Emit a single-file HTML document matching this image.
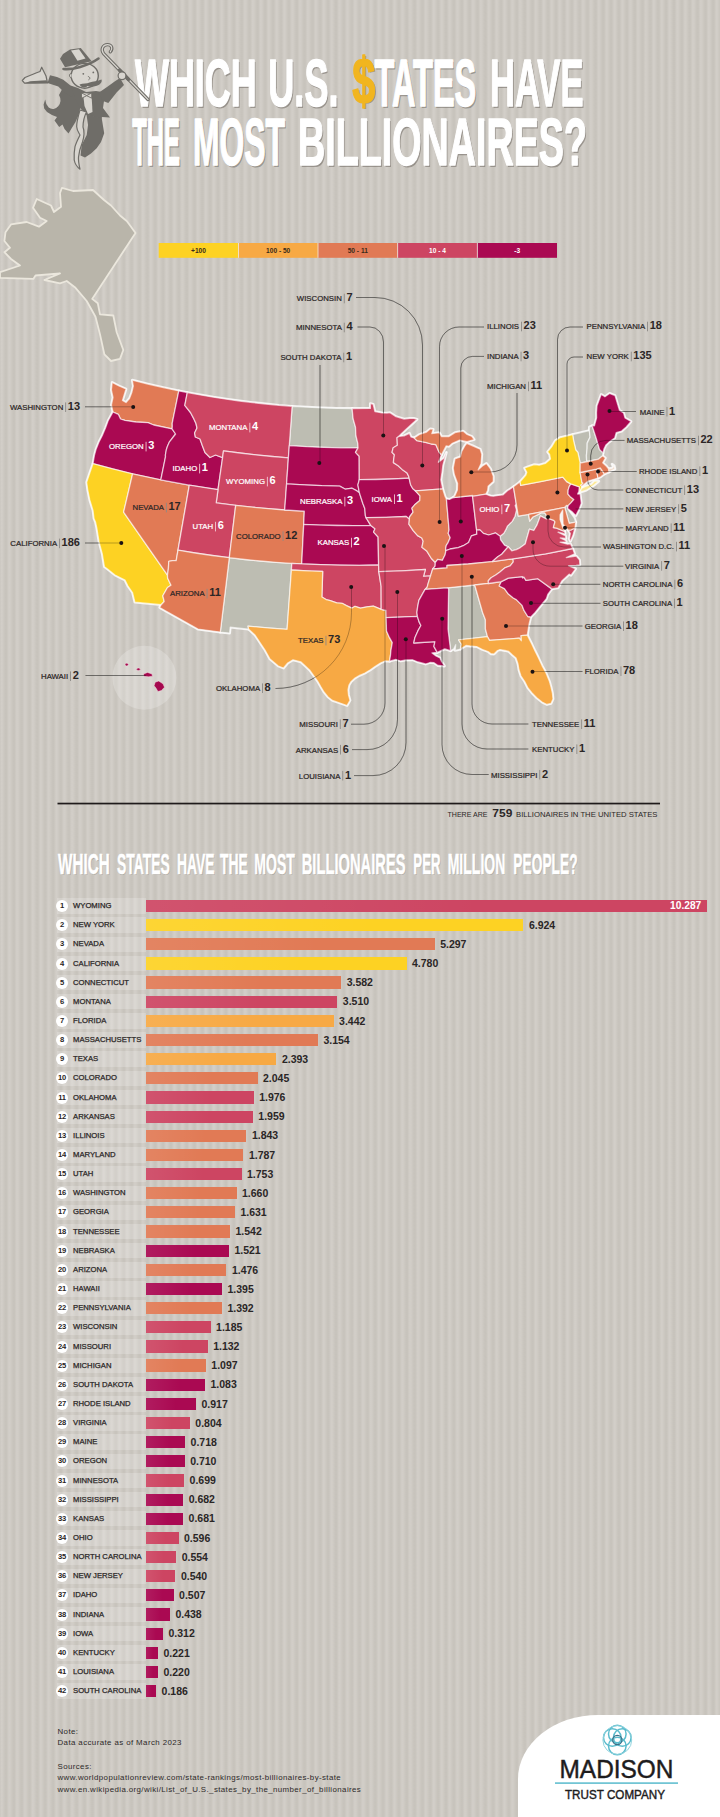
<!DOCTYPE html><html><head><meta charset="utf-8"><title>Which U.S. States Have the Most Billionaires?</title><style>
html,body{margin:0;padding:0}
body{width:720px;height:1817px;position:relative;overflow:hidden;font-family:"Liberation Sans",sans-serif;
background:repeating-linear-gradient(90deg,#d1cdc7 0px,#d2cec8 1.4px,#cac6bf 3.9px,#c6c2bb 5.4px,#cac6bf 6.9px,#d1cdc7 7.86px);background-position:0.5px 0}
.row{position:absolute;left:0;width:720px;height:19px}
.strip{position:absolute;left:56.5px;top:1.8px;width:89.5px;height:15.4px;background:rgba(255,255,255,0.2)}
.num{position:absolute;left:56px;top:3.6px;width:12px;height:12px;border-radius:50%;background:#fff;font-size:7.6px;font-weight:700;line-height:12px;text-align:center;color:#2a2626;letter-spacing:-0.2px}
.nm{position:absolute;left:73px;top:4.6px;font-size:7.7px;line-height:10px;color:#2a2626;white-space:nowrap;-webkit-text-stroke:0.25px #2a2626}
.bar{position:absolute;left:146px;top:3.4px;height:12.2px}
.bar:after{content:'';position:absolute;left:0;top:0;right:0;bottom:0;background:linear-gradient(90deg,rgba(255,255,255,0.08),rgba(255,255,255,0) 60%)}
.val{position:absolute;top:3.2px;font-size:10.5px;font-weight:700;line-height:12.6px;color:#2a2626;white-space:nowrap}
.val.in{color:#fff;font-size:10.2px}
.foot{position:absolute;left:57.5px;font-size:7.9px;letter-spacing:0.4px;line-height:9px;color:#2d2929;white-space:nowrap}
.panel{position:absolute;left:518px;top:1715px;width:220px;height:120px;background:#fff;border-top-left-radius:80px 64px}
</style></head><body><svg width="720" height="890" viewBox="0 0 720 890" style="position:absolute;left:0;top:0"><path d="M62.0,187.8 L73.0,191.0 L93.0,190.0 L104.0,200.0 L111.0,205.5 L120.0,215.5 L126.7,221.0 L131.0,226.7 L135.5,233.0 L92.2,298.9 L97.8,303.3 L100.0,314.4 L113.3,315.5 L116.7,332.2 L123.3,350.0 L120.0,358.9 L111.0,361.0 L104.4,354.4 L100.0,334.4 L95.5,316.7 L86.7,301.0 L75.5,287.8 L66.7,281.0 L60.0,283.3 L44.4,280.0 L60.0,273.3 L35.5,275.5 L33.3,278.9 L0.0,277.8 L0.0,272.2 L20.0,265.5 L11.0,258.9 L4.4,252.2 L10.0,247.8 L4.4,241.0 L5.5,232.2 L11.0,224.4 L26.7,222.0 L39.0,226.7 L46.7,221.0 L40.0,217.8 L33.0,207.8 L36.7,199.0 L51.0,205.5 L54.0,212.0 L61.0,206.7 L60.0,193.0 Z" fill="#b9b5aa" stroke="#ebe7dd" stroke-width="1.8" stroke-linejoin="round"/><g font-family="'Liberation Sans',sans-serif"><text x="136.2" y="107.5" font-size="67" font-weight="700" fill="rgba(90,85,78,0.45)" textLength="121.7" lengthAdjust="spacingAndGlyphs" >WHICH</text><text x="135.0" y="106.0" font-size="67" font-weight="700" fill="#fff" textLength="121.7" lengthAdjust="spacingAndGlyphs" stroke="#fff" stroke-width="1.5" stroke-linejoin="round">WHICH</text><text x="269.5" y="107.5" font-size="67" font-weight="700" fill="rgba(90,85,78,0.45)" textLength="70.2" lengthAdjust="spacingAndGlyphs" >U.S.</text><text x="268.3" y="106.0" font-size="67" font-weight="700" fill="#fff" textLength="70.2" lengthAdjust="spacingAndGlyphs" stroke="#fff" stroke-width="1.5" stroke-linejoin="round">U.S.</text><text x="375.7" y="107.5" font-size="67" font-weight="700" fill="rgba(90,85,78,0.45)" textLength="101.8" lengthAdjust="spacingAndGlyphs" >TATES</text><text x="374.5" y="106.0" font-size="67" font-weight="700" fill="#fff" textLength="101.8" lengthAdjust="spacingAndGlyphs" stroke="#fff" stroke-width="1.5" stroke-linejoin="round">TATES</text><text x="491.2" y="107.5" font-size="67" font-weight="700" fill="rgba(90,85,78,0.45)" textLength="93.5" lengthAdjust="spacingAndGlyphs" >HAVE</text><text x="490.0" y="106.0" font-size="67" font-weight="700" fill="#fff" textLength="93.5" lengthAdjust="spacingAndGlyphs" stroke="#fff" stroke-width="1.5" stroke-linejoin="round">HAVE</text><text x="353.4" y="104.1" font-size="65" font-weight="700" fill="rgba(90,85,78,0.45)" textLength="23.0" lengthAdjust="spacingAndGlyphs" >$</text><text x="352.2" y="102.6" font-size="65" font-weight="700" fill="#f1b51f" textLength="23.0" lengthAdjust="spacingAndGlyphs" stroke="#f1b51f" stroke-width="1.5" stroke-linejoin="round">$</text><text x="133.5" y="166.5" font-size="67" font-weight="700" fill="rgba(90,85,78,0.45)" textLength="47.7" lengthAdjust="spacingAndGlyphs" >THE</text><text x="132.3" y="165.0" font-size="67" font-weight="700" fill="#fff" textLength="47.7" lengthAdjust="spacingAndGlyphs" stroke="#fff" stroke-width="1.5" stroke-linejoin="round">THE</text><text x="194.2" y="166.5" font-size="67" font-weight="700" fill="rgba(90,85,78,0.45)" textLength="92.0" lengthAdjust="spacingAndGlyphs" >MOST</text><text x="193.0" y="165.0" font-size="67" font-weight="700" fill="#fff" textLength="92.0" lengthAdjust="spacingAndGlyphs" stroke="#fff" stroke-width="1.5" stroke-linejoin="round">MOST</text><text x="299.2" y="166.5" font-size="67" font-weight="700" fill="rgba(90,85,78,0.45)" textLength="289.0" lengthAdjust="spacingAndGlyphs" >BILLIONAIRES?</text><text x="298.0" y="165.0" font-size="67" font-weight="700" fill="#fff" textLength="289.0" lengthAdjust="spacingAndGlyphs" stroke="#fff" stroke-width="1.5" stroke-linejoin="round">BILLIONAIRES?</text></g><g stroke-linejoin="round" stroke-linecap="round">
<path d="M148,99.5 L103.5,53.5 C100.5,49.5 103,44.6 107.5,44.6 C111.8,44.6 113.2,48.8 110.3,51.8" fill="none" stroke="#6f6d68" stroke-width="3.3"/>
<path d="M148,99.5 L103.5,53.5 C100.5,49.5 103,44.6 107.5,44.6 C111.8,44.6 113.2,48.8 110.3,51.8" fill="none" stroke="#d8d5cf" stroke-width="1.2"/>
<path d="M119.5,70 L128.5,79.5" stroke="#6f6d68" stroke-width="3.4"/>
<path d="M74,90 L63,87.5 L59,94.9 A7.6,9 0 0 1 48.7,107.6 L46.3,104 L45.2,99.5 L43.6,104.5 L44.2,108.6 L47,112 L52,115 L57,117 L54.5,120.5 L59.2,127 L62.5,124.5 L64.5,129 L68.5,133.5 L71.5,128.5 L75.5,122 L79,114 L81,104 Z" fill="#6f6d68"/>
<path d="M50,75.3 L57,77 L63.3,79.7 L70.5,85.5 L76,89 L72,97 L65,93 L58.3,86.5 L47.5,83 Z" fill="#6f6d68"/>
<path d="M70.5,85.5 L78,88 L86,92 L96,91 L108,93 L104,101 L103,108 L110,117.5 L102,117 L101.5,119 L86.5,115 L80,108 L76,100 Z" fill="#6f6d68"/>
<path d="M98.3,93 L107,87 L115,81.3 L120,78 L124,85 L117,92 L108.3,103 L103,101 Z" fill="#6f6d68"/>
<path d="M83,93 L91.5,94 L92.5,112 L88,114 L84.5,106 Z" fill="#d8d5cf"/>
<path d="M81.7,93 l5,2.5 l5,-2.5 v5.2 l-5,-2.5 l-5,2.5z" fill="#d8d5cf" stroke="#6f6d68" stroke-width="0.9"/>
<path d="M86.5,114.5 L101.7,118.3 L104.2,133.3 L101,142 L96.7,148.3 L91,153.5 L85,157.5 L80.5,155.5 L81.7,145 L86.7,135 L88,125 Z" fill="#6f6d68"/>
<path d="M80,110 C78,117 76.5,122 76.7,126.7 C77,131 79,133 80,135 C78,139 76,143 75,146.7 C74,152 74,156 74.2,160 C75,164 77,167 80,169.2 C79,165 78.2,161 78.5,157 C79,152 80.5,147 82.5,142 C84,137 84.5,131 83,127 C83,121 84.5,116 86.5,112 Z" fill="#d8d5cf" stroke="#6f6d68" stroke-width="1.2"/>
<path d="M47.5,83 L46,76 L41.7,67.2 L40,71.5 L36,73 L25,77.5 L22.3,80.5 L24.5,83.2 L35,83 Z" fill="#d8d5cf" stroke="#6f6d68" stroke-width="1.2"/>
<path d="M24.5,83.2 L35,83.4 L47.5,83 L46.5,80.3 L30,81.3 Z" fill="#6f6d68"/>
<circle cx="122" cy="75.8" r="3.9" fill="#d8d5cf" stroke="#6f6d68" stroke-width="1.2"/>
<ellipse cx="84.7" cy="75.8" rx="13.6" ry="12.4" fill="#d8d5cf" stroke="#6f6d68" stroke-width="1.4"/>
<path d="M71.6,73.5 c-2.6,-0.6 -3.2,3.6 -0.2,4.6" fill="#d8d5cf" stroke="#6f6d68" stroke-width="1"/>
<circle cx="83.3" cy="73.8" r="0.9" fill="#6f6d68"/><circle cx="93.3" cy="72.4" r="0.9" fill="#6f6d68"/>
<path d="M88.3,76.5 c1.8,0.4 2.2,2.3 0.6,3.2" fill="none" stroke="#6f6d68" stroke-width="1"/>
<path d="M79.5,84.5 C83,83 87,84 89.5,82.5 C93,81 97.5,81.5 101.5,79.5 C102.5,82 100,85 96,86 C92,87.5 88.5,86.5 87.5,86 C85,88.5 81,87.5 79.5,84.5Z" fill="#6f6d68"/>
<path d="M60,58.8 L63,54 L70,49.5 L80.8,48 L91.7,61.3 L65,67.2 Z" fill="#6f6d68"/>
<path d="M71,50.5 L79,49.3 L85.5,58.5 L77.5,60.8 Z" fill="#d8d5cf"/>
<path d="M63.5,69 C72,70 88,66 98.5,58.5" fill="none" stroke="#6f6d68" stroke-width="2.6"/>
</g><g><rect x="158.7" y="243" width="79.7" height="14.8" fill="#fdd223"/><text x="198.5" y="253.2" font-size="6.6" font-weight="700" text-anchor="middle" fill="#3a2a1a" font-family="'Liberation Sans',sans-serif">+100</text><rect x="238.4" y="243" width="79.7" height="14.8" fill="#f7a944"/><rect x="238.0" y="243" width="0.8" height="14.8" fill="#f3e9df"/><text x="278.2" y="253.2" font-size="6.6" font-weight="700" text-anchor="middle" fill="#3a2a1a" font-family="'Liberation Sans',sans-serif">100 - 50</text><rect x="318.0" y="243" width="79.7" height="14.8" fill="#e17a55"/><rect x="317.6" y="243" width="0.8" height="14.8" fill="#f3e9df"/><text x="357.8" y="253.2" font-size="6.6" font-weight="700" text-anchor="middle" fill="#3a2a1a" font-family="'Liberation Sans',sans-serif">50 - 11</text><rect x="397.7" y="243" width="79.7" height="14.8" fill="#cd4562"/><rect x="397.3" y="243" width="0.8" height="14.8" fill="#f3e9df"/><text x="437.5" y="253.2" font-size="6.6" font-weight="700" text-anchor="middle" fill="#fff" font-family="'Liberation Sans',sans-serif">10 - 4</text><rect x="477.3" y="243" width="79.7" height="14.8" fill="#aa0952"/><rect x="476.9" y="243" width="0.8" height="14.8" fill="#f3e9df"/><text x="517.2" y="253.2" font-size="6.6" font-weight="700" text-anchor="middle" fill="#fff" font-family="'Liberation Sans',sans-serif">-3</text></g><circle cx="144.4" cy="677.8" r="32" fill="rgba(255,255,255,0.22)"/><g fill="#a5094f" stroke="#f3dfe3" stroke-width="0.5"><ellipse cx="126.7" cy="664.6" rx="1.6" ry="1.4"/><ellipse cx="138.4" cy="669.3" rx="1.7" ry="1.3"/><path d="M143.5,674 l4,-1.6 l4.5,1.6 l0.5,2.2 l-4,0.6 l-4.5,-0.5z"/><path d="M155.2,682.2 l3.5,-1.2 l4.3,2.8 l1.5,3.4 l-3,3.3 l-3.6,1 l-1.8,-3.2 l-2,-2.6z"/></g><g fill="none" stroke="#fff" stroke-opacity="0.8" stroke-width="2.8" stroke-linejoin="round"><path d="M113.0,412.0 L111.4,405.0 L113.0,397.5 L111.4,390.0 L112.2,382.4 L119.0,386.0 L126.0,389.0 L124.3,394.5 L122.5,400.5 L126.0,402.5 L129.5,398.5 L131.8,392.5 L133.3,386.0 L132.3,380.2 L147.8,384.0 L163.3,387.6 L178.8,390.9 L172.2,423.3 L172.3,426.3 L172.1,428.9 L153.6,425.0 L148.0,422.7 L135.8,422.0 L125.0,420.4 L120.5,419.0 L118.3,414.3 L113.0,412.0Z"/><path d="M93.0,463.7 L94.5,455.0 L96.0,449.5 L99.0,442.0 L102.2,435.7 L105.5,428.0 L108.3,420.4 L113.0,412.0 L118.3,414.3 L120.5,419.0 L125.0,420.4 L135.8,422.0 L148.0,422.7 L153.6,425.0 L172.1,428.9 L175.6,434.0 L172.5,438.0 L169.5,441.8 L167.6,446.0 L166.4,449.5 L165.4,455.0 L165.5,456.8 L160.8,479.9 L132.6,473.8 L112.7,468.9 L93.0,463.7Z"/><path d="M134.9,602.2 L132.5,592.5 L128.0,586.0 L125.0,580.0 L119.0,577.0 L115.0,575.0 L107.5,569.0 L104.4,566.7 L102.3,554.0 L99.0,541.7 L97.0,529.0 L95.5,522.0 L94.0,518.5 L93.0,510.4 L89.8,500.0 L87.7,489.6 L86.7,482.3 L89.8,473.0 L93.0,463.7 L112.7,468.9 L132.6,473.8 L123.6,512.2 L167.5,575.2 L167.6,577.9 L171.0,585.2 L167.5,587.5 L162.8,595.8 L164.2,601.5 L161.2,604.7 L134.9,602.2Z"/><path d="M132.6,473.8 L160.8,479.9 L189.3,485.2 L178.0,550.2 L176.2,560.6 L172.5,560.6 L168.8,561.3 L168.4,568.6 L167.5,575.2 L123.6,512.2 L132.6,473.8Z"/><path d="M178.8,390.9 L187.3,392.6 L184.8,405.4 L190.5,412.5 L193.9,418.9 L196.0,423.5 L197.0,428.0 L194.6,433.0 L195.4,437.0 L200.0,439.0 L202.5,446.0 L205.0,452.5 L210.0,457.5 L215.5,455.0 L222.6,457.6 L218.0,489.7 L189.3,485.2 L160.8,479.9 L165.5,456.8 L165.4,455.0 L166.4,449.5 L167.6,446.0 L169.5,441.8 L172.5,438.0 L175.6,434.0 L172.1,428.9 L172.3,426.3 L172.2,423.3 L178.8,390.9Z"/><path d="M187.3,392.6 L200.3,394.9 L213.3,397.2 L226.4,399.2 L239.5,401.0 L252.6,402.6 L265.7,404.0 L278.9,405.3 L292.1,406.3 L289.3,445.6 L288.4,457.8 L272.1,456.5 L255.9,454.9 L239.7,453.0 L223.5,450.9 L222.6,457.6 L215.5,455.0 L210.0,457.5 L205.0,452.5 L202.5,446.0 L200.0,439.0 L195.4,437.0 L194.6,433.0 L197.0,428.0 L196.0,423.5 L193.9,418.9 L190.5,412.5 L184.8,405.4 L187.3,392.6Z"/><path d="M223.5,450.9 L239.7,453.0 L255.9,454.9 L272.1,456.5 L288.4,457.8 L286.6,483.8 L284.7,510.0 L268.3,508.7 L252.0,507.1 L235.7,505.3 L216.2,502.8 L218.0,489.7 L222.6,457.6Z"/><path d="M189.3,485.2 L218.0,489.7 L216.2,502.8 L235.7,505.3 L229.3,557.7 L212.2,555.5 L195.1,553.0 L178.0,550.2 L189.3,485.2Z"/><path d="M235.7,505.3 L252.0,507.1 L268.3,508.7 L284.7,510.0 L304.3,511.2 L303.7,524.4 L301.7,563.9 L291.8,563.4 L276.1,562.3 L260.5,561.0 L244.9,559.5 L229.3,557.7 L235.7,505.3Z"/><path d="M178.0,550.2 L195.1,553.0 L212.2,555.5 L229.3,557.7 L220.3,632.1 L198.0,629.1 L159.7,607.5 L161.2,604.7 L164.2,601.5 L162.8,595.8 L167.5,587.5 L171.0,585.2 L167.6,577.9 L167.5,575.2 L168.4,568.6 L168.8,561.3 L172.5,560.6 L176.2,560.6 L178.0,550.2Z"/><path d="M229.3,557.7 L244.9,559.5 L260.5,561.0 L276.1,562.3 L291.8,563.4 L291.4,570.0 L287.1,629.3 L267.6,627.9 L248.0,626.2 L248.7,629.2 L230.2,627.2 L229.6,633.1 L220.3,632.1 L229.3,557.7Z"/><path d="M292.1,406.3 L307.1,407.2 L322.1,407.9 L337.1,408.4 L352.1,408.5 L353.1,418.8 L355.5,427.1 L355.9,435.5 L357.8,443.3 L358.1,447.9 L340.9,447.8 L323.7,447.4 L306.5,446.7 L289.3,445.6 L292.1,406.3Z"/><path d="M289.3,445.6 L306.5,446.7 L323.7,447.4 L340.9,447.8 L358.1,447.9 L355.5,452.4 L359.2,456.2 L359.3,479.7 L357.9,484.9 L359.4,492.8 L356.9,490.9 L352.1,488.2 L345.4,489.2 L339.7,486.1 L322.0,485.7 L304.2,484.9 L286.6,483.8 L288.4,457.8 L289.3,445.6Z"/><path d="M286.6,483.8 L304.2,484.9 L322.0,485.7 L339.7,486.1 L345.4,489.2 L352.1,488.2 L356.9,490.9 L359.4,492.8 L362.8,503.3 L364.8,508.5 L365.4,515.8 L366.2,518.0 L368.9,522.3 L370.9,525.6 L354.1,525.7 L337.3,525.5 L320.4,525.1 L303.7,524.4 L304.3,511.2 L284.7,510.0 L286.6,483.8Z"/><path d="M303.7,524.4 L320.4,525.1 L337.3,525.5 L354.1,525.7 L370.9,525.6 L375.0,528.8 L373.6,532.1 L378.1,537.0 L378.6,565.0 L359.4,565.3 L340.2,565.2 L320.9,564.7 L301.7,563.9 L303.7,524.4Z"/><path d="M291.8,563.4 L301.7,563.9 L320.9,564.7 L340.2,565.2 L359.4,565.3 L378.6,565.0 L378.8,571.6 L381.1,586.1 L381.2,609.4 L373.3,606.1 L366.9,606.9 L360.4,608.2 L355.0,606.3 L351.8,608.2 L346.4,605.6 L342.1,603.3 L336.7,602.8 L330.3,600.7 L326.1,599.5 L321.9,597.0 L322.7,571.4 L307.0,570.8 L291.4,570.0 L291.8,563.4Z"/><path d="M291.4,570.0 L307.0,570.8 L322.7,571.4 L321.9,597.0 L326.1,599.5 L330.3,600.7 L336.7,602.8 L342.1,603.3 L346.4,605.6 L351.8,608.2 L355.0,606.3 L360.4,608.2 L366.9,606.9 L373.3,606.1 L381.2,609.4 L385.9,610.5 L386.1,617.5 L386.5,631.0 L389.4,637.4 L392.3,642.6 L390.9,650.6 L390.5,655.2 L389.5,661.2 L385.0,661.0 L380.4,663.0 L375.0,666.5 L370.0,670.0 L365.0,673.0 L359.6,675.4 L355.0,678.0 L351.0,681.7 L349.0,685.0 L348.0,690.0 L348.5,695.0 L350.0,700.4 L347.0,705.5 L340.0,703.0 L332.5,700.4 L328.0,697.0 L324.0,692.0 L321.0,687.0 L318.0,681.7 L314.0,676.0 L309.6,670.0 L301.0,661.9 L293.0,659.8 L287.7,663.0 L283.5,668.0 L278.3,666.0 L270.0,659.0 L265.0,650.0 L260.0,642.5 L255.0,635.0 L248.7,629.2 L248.0,626.2 L267.6,627.9 L287.1,629.3 L291.4,570.0Z"/><path d="M352.1,408.5 L370.4,408.4 L370.4,403.6 L373.2,404.3 L374.9,411.5 L382.0,412.9 L386.9,413.1 L390.0,412.7 L395.9,416.6 L404.1,419.1 L409.9,418.4 L413.9,418.4 L417.1,419.3 L412.4,423.6 L406.4,428.9 L401.3,433.7 L398.7,436.4 L397.0,437.7 L397.4,445.2 L393.2,447.7 L392.0,452.3 L394.4,454.8 L393.7,459.4 L393.4,462.6 L398.2,465.7 L402.1,469.4 L407.1,473.1 L408.7,476.3 L409.1,478.2 L392.5,479.0 L375.9,479.5 L359.3,479.7 L359.2,456.2 L355.5,452.4 L358.1,447.9 L357.8,443.3 L355.9,435.5 L355.5,427.1 L353.1,418.8 L352.1,408.5Z"/><path d="M359.3,479.7 L375.9,479.5 L392.5,479.0 L409.1,478.2 L410.6,484.7 L412.7,488.5 L415.4,490.8 L420.0,495.9 L419.8,500.5 L414.7,504.8 L411.9,508.2 L413.1,512.1 L409.5,517.0 L409.4,519.2 L406.2,516.5 L386.2,517.3 L366.2,517.7 L366.2,518.0 L365.4,515.8 L364.8,508.5 L362.8,503.3 L359.4,492.8 L357.9,484.9 L359.3,479.7Z"/><path d="M366.2,518.0 L366.2,517.7 L386.2,517.3 L406.2,516.5 L409.4,519.2 L408.9,524.2 L413.2,530.6 L417.6,535.6 L421.8,538.0 L423.2,541.2 L421.9,547.3 L426.7,550.9 L431.4,558.5 L435.3,562.5 L435.1,566.2 L432.7,569.0 L431.4,573.1 L430.6,575.8 L423.5,576.3 L425.4,569.5 L402.1,570.8 L378.8,571.6 L378.6,565.0 L378.1,537.0 L373.6,532.1 L375.0,528.8 L370.9,525.6 L368.9,522.3 L366.2,518.0Z"/><path d="M378.8,571.6 L402.1,570.8 L425.4,569.5 L423.5,576.3 L430.6,575.8 L428.4,582.6 L427.1,587.3 L425.1,589.4 L422.7,593.6 L418.9,600.4 L417.6,607.1 L416.9,612.5 L417.4,616.4 L386.2,617.7 L386.1,617.5 L385.9,610.5 L381.2,609.4 L381.1,586.1 L378.8,571.6Z"/><path d="M386.2,617.7 L417.4,616.4 L419.0,621.6 L420.9,625.5 L417.9,630.9 L414.9,637.7 L413.8,643.0 L434.9,641.7 L433.9,646.4 L437.2,652.4 L432.0,653.0 L436.0,656.0 L440.0,658.0 L441.5,661.5 L444.5,666.0 L438.0,665.5 L434.0,662.7 L430.0,662.5 L425.6,664.0 L418.0,662.0 L412.5,659.8 L406.0,660.0 L400.8,661.0 L396.0,659.5 L389.5,661.2 L390.5,655.2 L390.9,650.6 L392.3,642.6 L389.4,637.4 L386.5,631.0 L386.1,617.5Z"/><path d="M398.7,436.4 L404.1,435.8 L409.4,433.3 L411.0,437.0 L414.1,437.9 L417.0,440.7 L426.5,442.6 L431.2,444.0 L435.9,444.7 L438.9,451.8 L441.5,454.9 L438.4,462.3 L444.1,457.9 L446.4,452.4 L444.0,461.2 L442.9,465.2 L442.1,471.8 L440.9,479.8 L442.7,489.0 L442.7,488.9 L415.4,490.9 L415.4,490.8 L412.7,488.5 L410.6,484.7 L409.1,478.2 L408.7,476.3 L407.1,473.1 L402.1,469.4 L398.2,465.7 L393.4,462.6 L393.7,459.4 L394.4,454.8 L392.0,452.3 L393.2,447.7 L397.4,445.2 L397.0,437.7 L398.7,436.4Z"/><path d="M415.4,490.9 L442.7,488.9 L442.7,489.0 L445.1,496.6 L446.4,498.9 L449.1,529.9 L448.2,533.3 L450.2,537.7 L448.1,542.6 L446.3,545.4 L445.6,548.8 L445.9,550.7 L445.1,554.8 L442.4,560.3 L437.7,559.4 L435.3,562.5 L431.4,558.5 L426.7,550.9 L421.9,547.3 L423.2,541.2 L421.8,538.0 L417.6,535.6 L413.2,530.6 L408.9,524.2 L409.4,519.2 L409.5,517.0 L413.1,512.1 L411.9,508.2 L414.7,504.8 L419.8,500.5 L420.0,495.9 L415.4,490.8Z"/><path d="M446.4,498.9 L449.5,499.4 L453.1,497.6 L472.6,495.5 L472.6,496.3 L476.6,530.1 L476.8,534.2 L471.4,535.9 L468.6,542.5 L463.3,545.7 L458.3,547.6 L450.2,549.0 L445.9,550.7 L445.6,548.8 L446.3,545.4 L448.1,542.6 L450.2,537.7 L448.2,533.3 L449.1,529.9 L446.4,498.9Z"/><path d="M414.1,437.9 L419.5,434.5 L426.6,432.1 L430.4,428.8 L433.2,429.3 L431.8,433.6 L439.4,432.7 L441.6,436.6 L449.0,436.5 L455.0,432.6 L463.0,431.1 L467.1,434.5 L472.0,436.5 L474.2,439.5 L467.1,441.7 L459.5,440.2 L452.4,443.3 L449.0,446.3 L446.2,445.9 L441.5,454.9 L438.9,451.8 L435.9,444.7 L431.2,444.0 L426.5,442.6 L417.0,440.7 L414.1,437.9Z"/><path d="M453.1,497.6 L455.0,495.6 L457.4,490.1 L457.6,483.4 L454.3,474.6 L453.2,468.1 L455.0,458.8 L460.4,456.9 L461.7,451.5 L464.8,445.9 L466.8,443.3 L473.2,446.1 L480.2,449.2 L481.8,454.2 L481.1,463.5 L478.2,469.8 L482.4,466.0 L486.4,463.4 L490.5,468.8 L493.3,476.3 L493.3,481.6 L488.1,486.3 L487.7,490.4 L485.8,494.2 L485.8,494.2 L472.6,496.3 L472.6,495.5 L453.1,497.6Z"/><path d="M472.6,496.3 L485.8,494.2 L490.4,495.9 L493.4,496.2 L500.2,495.2 L503.1,494.8 L507.4,490.8 L513.5,486.8 L516.3,504.1 L515.2,505.5 L516.5,510.0 L515.0,516.2 L512.2,521.4 L507.4,526.1 L506.2,528.9 L503.8,533.3 L500.1,536.2 L495.6,532.9 L488.7,535.0 L483.4,533.4 L479.9,529.9 L476.6,530.1 L472.6,496.3Z"/><path d="M445.9,550.7 L450.2,549.0 L458.3,547.6 L463.3,545.7 L468.6,542.5 L471.4,535.9 L476.8,534.2 L476.6,530.1 L479.9,529.9 L483.4,533.4 L488.7,535.0 L495.6,532.9 L500.1,536.2 L500.6,539.8 L504.5,545.2 L508.2,546.8 L501.7,554.3 L497.8,556.8 L492.4,561.6 L468.3,564.0 L447.0,565.5 L447.0,567.9 L432.7,569.0 L435.1,566.2 L435.3,562.5 L437.7,559.4 L442.4,560.3 L445.1,554.8 L445.9,550.7Z"/><path d="M432.7,569.0 L447.0,567.9 L447.0,565.5 L468.3,564.0 L492.4,561.6 L513.0,558.8 L513.3,561.9 L510.2,565.8 L504.7,567.9 L499.9,571.9 L496.1,574.8 L491.1,577.7 L488.3,580.8 L488.4,583.5 L488.4,583.4 L474.8,585.0 L447.4,587.8 L425.1,589.4 L427.1,587.3 L428.4,582.6 L430.6,575.8 L431.4,573.1 L432.7,569.0Z"/><path d="M425.1,589.4 L447.4,587.8 L448.6,589.0 L448.0,628.8 L450.6,650.7 L444.8,648.9 L437.2,652.4 L433.9,646.4 L434.9,641.7 L413.8,643.0 L414.9,637.7 L417.9,630.9 L420.9,625.5 L419.0,621.6 L417.4,616.4 L416.9,612.5 L417.6,607.1 L418.9,600.4 L422.7,593.6 L425.1,589.4Z"/><path d="M447.4,587.8 L474.8,585.0 L474.8,585.3 L482.6,612.5 L485.4,619.7 L485.4,629.0 L487.5,636.7 L458.6,639.8 L461.3,644.2 L460.4,649.1 L455.1,650.4 L455.7,644.7 L453.8,648.8 L450.6,650.7 L448.0,628.8 L448.6,589.0 L447.4,587.8Z"/><path d="M474.8,585.0 L488.4,583.4 L488.4,583.5 L501.2,581.7 L499.2,586.0 L504.4,588.6 L508.4,594.1 L513.3,598.0 L516.3,599.6 L522.1,605.4 L524.0,610.4 L527.8,616.5 L530.8,617.0 L529.0,624.4 L527.3,635.2 L521.1,635.6 L521.3,640.7 L519.3,638.2 L489.5,640.4 L487.5,636.7 L485.4,629.0 L485.4,619.7 L482.6,612.5 L474.8,585.3Z"/><path d="M460.4,649.1 L461.3,644.2 L458.6,639.8 L487.5,636.7 L489.5,640.4 L519.3,638.2 L521.3,640.7 L521.1,635.6 L527.3,635.2 L532.0,644.5 L535.0,651.0 L538.5,658.0 L542.0,665.6 L546.0,673.0 L549.5,681.6 L551.0,687.0 L552.4,693.0 L553.0,699.0 L551.0,703.5 L547.0,704.5 L542.0,702.0 L537.0,698.0 L532.0,693.0 L528.0,688.0 L524.7,681.6 L521.0,676.0 L519.0,670.0 L518.0,664.0 L516.0,658.0 L512.5,655.0 L508.7,651.5 L505.0,650.5 L500.0,649.6 L497.5,650.5 L494.0,654.0 L491.0,653.8 L488.0,651.5 L482.5,649.5 L476.6,646.6 L470.0,646.0 L466.0,645.5 L460.4,649.1Z"/><path d="M501.2,581.7 L508.3,578.1 L522.5,576.6 L522.7,577.9 L523.9,577.0 L526.0,580.4 L537.8,578.7 L551.8,588.9 L547.8,594.4 L546.4,598.7 L540.0,606.5 L534.9,612.7 L530.8,617.0 L527.8,616.5 L524.0,610.4 L522.1,605.4 L516.3,599.6 L513.3,598.0 L508.4,594.1 L504.4,588.6 L499.2,586.0 L501.2,581.7Z"/><path d="M488.4,583.5 L488.3,580.8 L491.1,577.7 L496.1,574.8 L499.9,571.9 L504.7,567.9 L510.2,565.8 L513.3,561.9 L513.0,558.8 L545.8,553.8 L572.7,548.5 L574.6,553.9 L566.3,557.6 L576.2,556.1 L579.5,559.9 L579.9,564.8 L576.0,565.4 L568.5,565.6 L575.6,568.8 L571.0,575.2 L569.1,574.2 L561.8,581.0 L558.1,587.8 L551.8,588.9 L537.8,578.7 L526.0,580.4 L523.9,577.0 L522.7,577.9 L522.5,576.6 L508.3,578.1 L501.2,581.7 L488.4,583.5Z"/><path d="M492.4,561.6 L513.0,558.8 L545.8,553.8 L572.7,548.5 L570.4,543.8 L567.3,544.2 L560.0,542.1 L566.3,542.0 L565.5,540.5 L560.2,538.0 L565.9,538.4 L565.5,535.8 L558.0,532.2 L565.1,533.9 L564.6,531.3 L556.6,528.2 L553.4,527.5 L555.0,521.8 L553.8,520.3 L549.6,518.8 L546.9,516.4 L546.3,519.0 L540.4,515.9 L536.9,525.2 L533.8,530.5 L529.4,529.2 L525.2,544.0 L520.0,547.8 L516.4,549.6 L511.8,550.8 L508.2,546.8 L501.7,554.3 L497.8,556.8 L492.4,561.6Z"/><path d="M568.6,530.4 L571.1,529.9 L575.0,528.0 L572.9,535.6 L570.4,541.3 L569.4,539.0 L570.3,533.5Z"/><path d="M500.1,536.2 L503.8,533.3 L506.2,528.9 L507.4,526.1 L512.2,521.4 L515.0,516.2 L516.5,510.0 L515.2,505.5 L516.3,504.1 L518.3,516.1 L528.6,514.4 L529.7,521.1 L532.9,517.0 L539.0,514.1 L541.3,512.6 L544.9,513.0 L546.9,516.4 L546.3,519.0 L540.4,515.9 L536.9,525.2 L533.8,530.5 L529.4,529.2 L525.2,544.0 L520.0,547.8 L516.4,549.6 L511.8,550.8 L508.2,546.8 L504.5,545.2 L500.6,539.8 L500.1,536.2Z"/><path d="M520.1,481.8 L513.5,486.8 L516.3,504.1 L518.3,516.1 L528.6,514.4 L546.7,511.0 L564.8,507.4 L566.4,505.5 L568.2,505.6 L570.9,502.9 L573.8,499.6 L570.0,496.4 L568.0,494.1 L568.1,490.1 L569.3,486.4 L570.9,483.9 L566.7,481.6 L562.8,477.1 L541.8,481.4 L520.7,485.3 L520.1,481.8Z"/><path d="M546.9,516.4 L544.9,513.0 L541.3,512.6 L539.0,514.1 L532.9,517.0 L529.7,521.1 L528.6,514.4 L546.7,511.0 L564.8,507.4 L569.2,523.4 L575.7,522.1 L575.0,528.0 L571.1,529.9 L568.6,530.4 L563.1,524.2 L562.8,517.5 L562.7,510.1 L560.1,514.7 L560.0,519.4 L562.6,527.0 L564.6,531.3 L556.6,528.2 L553.4,527.5 L555.0,521.8 L553.8,520.3 L549.6,518.8 L546.9,516.4Z"/><path d="M564.8,507.4 L566.4,505.5 L568.2,505.6 L567.5,508.4 L569.8,511.9 L574.2,517.8 L575.7,522.1 L569.2,523.4 L564.8,507.4Z"/><path d="M570.9,483.9 L579.5,486.8 L579.2,490.9 L577.6,494.0 L580.2,494.1 L581.3,503.3 L579.4,508.5 L575.8,515.6 L571.8,511.5 L567.5,508.4 L568.2,505.6 L570.9,502.9 L573.8,499.6 L570.0,496.4 L568.0,494.1 L568.1,490.1 L569.3,486.4 L570.9,483.9Z"/><path d="M520.1,481.8 L525.9,475.1 L526.8,472.2 L524.6,468.0 L534.2,464.6 L539.2,465.2 L545.6,463.3 L550.5,458.9 L549.6,454.5 L547.6,451.8 L551.8,446.7 L555.3,440.6 L560.3,437.5 L572.6,434.6 L573.7,441.1 L575.8,450.0 L577.8,452.2 L580.2,463.1 L580.1,472.5 L581.9,482.2 L582.9,483.3 L580.8,485.2 L581.8,486.3 L581.0,489.2 L579.2,490.9 L579.5,486.8 L570.9,483.9 L566.7,481.6 L562.8,477.1 L541.8,481.4 L520.7,485.3 L520.1,481.8Z"/><path d="M580.2,492.1 L586.4,490.2 L594.2,485.1 L598.8,481.2 L594.3,481.2 L591.5,484.2 L585.5,486.4 L581.4,488.4Z"/><path d="M608.3,468.8 L612.1,468.2 L613.5,466.5 L612.0,464.1 L614.2,465.9 L614.9,469.1 L608.9,472.0Z"/><path d="M580.1,472.5 L596.3,469.1 L598.0,478.0 L588.2,481.1 L581.8,486.3 L580.8,485.2 L582.9,483.3 L581.9,482.2 L580.1,472.5Z"/><path d="M596.3,469.1 L600.2,467.9 L603.0,471.8 L604.4,473.9 L601.2,476.5 L598.0,478.0 L596.3,469.1Z"/><path d="M580.1,472.5 L580.2,463.1 L587.8,461.5 L598.7,459.1 L602.6,455.8 L605.4,458.0 L602.7,462.8 L606.7,466.5 L608.5,468.8 L608.9,472.0 L604.4,473.9 L603.0,471.8 L600.2,467.9 L596.3,469.1 L580.1,472.5Z"/><path d="M572.6,434.6 L589.4,430.5 L589.3,430.4 L590.1,437.1 L587.2,443.1 L587.1,448.6 L586.4,455.5 L586.6,460.2 L587.8,461.5 L580.2,463.1 L577.8,452.2 L575.8,450.0 L573.7,441.1 L572.6,434.6Z"/><path d="M589.3,430.4 L589.4,427.1 L592.1,425.8 L596.2,438.2 L599.5,449.5 L603.0,452.9 L602.6,455.8 L598.7,459.1 L587.8,461.5 L586.6,460.2 L586.4,455.5 L587.1,448.6 L587.2,443.1 L590.1,437.1 L589.3,430.4Z"/><path d="M592.1,425.8 L594.4,425.8 L596.6,417.9 L596.5,412.5 L597.0,405.7 L601.2,394.5 L604.9,396.8 L609.6,393.4 L615.0,395.6 L619.4,410.1 L623.5,412.9 L625.0,417.9 L631.0,421.5 L626.2,427.0 L621.6,431.1 L616.2,432.7 L614.7,437.9 L609.0,442.1 L605.9,445.0 L604.0,448.9 L603.0,452.9 L599.5,449.5 L596.2,438.2 L592.1,425.8Z"/></g><g stroke="#fff" stroke-opacity="0.62" stroke-width="1.3" stroke-linejoin="round"><path d="M229.3,557.7 L244.9,559.5 L260.5,561.0 L276.1,562.3 L291.8,563.4 L291.4,570.0 L287.1,629.3 L267.6,627.9 L248.0,626.2 L248.7,629.2 L230.2,627.2 L229.6,633.1 L220.3,632.1 L229.3,557.7Z" fill="#bdbdb2"/>
<path d="M292.1,406.3 L307.1,407.2 L322.1,407.9 L337.1,408.4 L352.1,408.5 L353.1,418.8 L355.5,427.1 L355.9,435.5 L357.8,443.3 L358.1,447.9 L340.9,447.8 L323.7,447.4 L306.5,446.7 L289.3,445.6 L292.1,406.3Z" fill="#bdbdb2"/>
<path d="M447.4,587.8 L474.8,585.0 L474.8,585.3 L482.6,612.5 L485.4,619.7 L485.4,629.0 L487.5,636.7 L458.6,639.8 L461.3,644.2 L460.4,649.1 L455.1,650.4 L455.7,644.7 L453.8,648.8 L450.6,650.7 L448.0,628.8 L448.6,589.0 L447.4,587.8Z" fill="#bdbdb2"/>
<path d="M500.1,536.2 L503.8,533.3 L506.2,528.9 L507.4,526.1 L512.2,521.4 L515.0,516.2 L516.5,510.0 L515.2,505.5 L516.3,504.1 L518.3,516.1 L528.6,514.4 L529.7,521.1 L532.9,517.0 L539.0,514.1 L541.3,512.6 L544.9,513.0 L546.9,516.4 L546.3,519.0 L540.4,515.9 L536.9,525.2 L533.8,530.5 L529.4,529.2 L525.2,544.0 L520.0,547.8 L516.4,549.6 L511.8,550.8 L508.2,546.8 L504.5,545.2 L500.6,539.8 L500.1,536.2Z" fill="#bdbdb2"/>
<path d="M564.8,507.4 L566.4,505.5 L568.2,505.6 L567.5,508.4 L569.8,511.9 L574.2,517.8 L575.7,522.1 L569.2,523.4 L564.8,507.4Z" fill="#bdbdb2"/>
<path d="M572.6,434.6 L589.4,430.5 L589.3,430.4 L590.1,437.1 L587.2,443.1 L587.1,448.6 L586.4,455.5 L586.6,460.2 L587.8,461.5 L580.2,463.1 L577.8,452.2 L575.8,450.0 L573.7,441.1 L572.6,434.6Z" fill="#bdbdb2"/>
<path d="M589.3,430.4 L589.4,427.1 L592.1,425.8 L596.2,438.2 L599.5,449.5 L603.0,452.9 L602.6,455.8 L598.7,459.1 L587.8,461.5 L586.6,460.2 L586.4,455.5 L587.1,448.6 L587.2,443.1 L590.1,437.1 L589.3,430.4Z" fill="#bdbdb2"/></g><g fill="none" stroke="#000" stroke-opacity="0.32" stroke-width="0.9"><path d="M356,297.5 H375 A47.5,47.5 0 0 1 422.5,345 V465.4"/><path d="M357.5,327 H370 A13.5,15 0 0 1 383.5,342 V435.5"/><path d="M320,365 V463"/><path d="M484,327 H459 A19.5,19.5 0 0 0 439.5,346.5 V522"/><path d="M484,356.4 H472.5 A11.7,11.7 0 0 0 460.8,368 V521.5"/><path d="M517,393 V445 A27,27 0 0 1 490,472 H471.5"/><path d="M583,327 H570 A12.5,12.5 0 0 0 557.5,339.5 V492.5"/><path d="M583,357 H574 A7,7 0 0 0 567,364 V450"/><path d="M636,411.5 H609.5"/><path d="M624.5,440.4 H606 A15.3,15.3 0 0 0 590.7,455.7 V463.5"/><path d="M636.7,471.5 H598"/><path d="M623.3,490 H598 A10.5,10.5 0 0 1 587.5,479.5 V474.5"/><path d="M623.3,508.9 H575.5"/><path d="M623.3,527.8 H565"/><path d="M601,547 H564 A16,16 0 0 1 548,531 V517"/><path d="M623.3,566.2 H550 A17,17 0 0 1 533,549 V542.3"/><path d="M600.4,584.3 H553.3"/><path d="M600.5,603.3 H531"/><path d="M582.5,626 H506"/><path d="M582.5,671.5 H532.5"/><path d="M528.4,724 H492 A20,20 0 0 1 472,704 V576.75"/><path d="M528.4,749 H487 A25,25 0 0 1 462,724 V556"/><path d="M488.7,774.5 H472 A30,30 0 0 1 442,744.5 V618.75"/><path d="M351,724.2 H364 A21,21 0 0 0 385,703 V546"/><path d="M352,749.6 H367 A30,30 0 0 0 397.5,719.5 V592"/><path d="M354,775.6 H373 A33,33 0 0 0 406,742.5 V639"/><path d="M275.5,688.5 A76,76 0 0 0 351.5,612.5 V587"/><path d="M85.5,675.5 H145.5"/><path d="M85,406.8 H133"/><path d="M85,543 H121.5"/></g><g stroke="#fff" stroke-opacity="0.62" stroke-width="1.3" stroke-linejoin="round"><path d="M113.0,412.0 L111.4,405.0 L113.0,397.5 L111.4,390.0 L112.2,382.4 L119.0,386.0 L126.0,389.0 L124.3,394.5 L122.5,400.5 L126.0,402.5 L129.5,398.5 L131.8,392.5 L133.3,386.0 L132.3,380.2 L147.8,384.0 L163.3,387.6 L178.8,390.9 L172.2,423.3 L172.3,426.3 L172.1,428.9 L153.6,425.0 L148.0,422.7 L135.8,422.0 L125.0,420.4 L120.5,419.0 L118.3,414.3 L113.0,412.0Z" fill="#e17a55"/>
<path d="M93.0,463.7 L94.5,455.0 L96.0,449.5 L99.0,442.0 L102.2,435.7 L105.5,428.0 L108.3,420.4 L113.0,412.0 L118.3,414.3 L120.5,419.0 L125.0,420.4 L135.8,422.0 L148.0,422.7 L153.6,425.0 L172.1,428.9 L175.6,434.0 L172.5,438.0 L169.5,441.8 L167.6,446.0 L166.4,449.5 L165.4,455.0 L165.5,456.8 L160.8,479.9 L132.6,473.8 L112.7,468.9 L93.0,463.7Z" fill="#aa0952"/>
<path d="M134.9,602.2 L132.5,592.5 L128.0,586.0 L125.0,580.0 L119.0,577.0 L115.0,575.0 L107.5,569.0 L104.4,566.7 L102.3,554.0 L99.0,541.7 L97.0,529.0 L95.5,522.0 L94.0,518.5 L93.0,510.4 L89.8,500.0 L87.7,489.6 L86.7,482.3 L89.8,473.0 L93.0,463.7 L112.7,468.9 L132.6,473.8 L123.6,512.2 L167.5,575.2 L167.6,577.9 L171.0,585.2 L167.5,587.5 L162.8,595.8 L164.2,601.5 L161.2,604.7 L134.9,602.2Z" fill="#fdd223"/>
<path d="M132.6,473.8 L160.8,479.9 L189.3,485.2 L178.0,550.2 L176.2,560.6 L172.5,560.6 L168.8,561.3 L168.4,568.6 L167.5,575.2 L123.6,512.2 L132.6,473.8Z" fill="#e17a55"/>
<path d="M178.8,390.9 L187.3,392.6 L184.8,405.4 L190.5,412.5 L193.9,418.9 L196.0,423.5 L197.0,428.0 L194.6,433.0 L195.4,437.0 L200.0,439.0 L202.5,446.0 L205.0,452.5 L210.0,457.5 L215.5,455.0 L222.6,457.6 L218.0,489.7 L189.3,485.2 L160.8,479.9 L165.5,456.8 L165.4,455.0 L166.4,449.5 L167.6,446.0 L169.5,441.8 L172.5,438.0 L175.6,434.0 L172.1,428.9 L172.3,426.3 L172.2,423.3 L178.8,390.9Z" fill="#aa0952"/>
<path d="M187.3,392.6 L200.3,394.9 L213.3,397.2 L226.4,399.2 L239.5,401.0 L252.6,402.6 L265.7,404.0 L278.9,405.3 L292.1,406.3 L289.3,445.6 L288.4,457.8 L272.1,456.5 L255.9,454.9 L239.7,453.0 L223.5,450.9 L222.6,457.6 L215.5,455.0 L210.0,457.5 L205.0,452.5 L202.5,446.0 L200.0,439.0 L195.4,437.0 L194.6,433.0 L197.0,428.0 L196.0,423.5 L193.9,418.9 L190.5,412.5 L184.8,405.4 L187.3,392.6Z" fill="#cd4562"/>
<path d="M223.5,450.9 L239.7,453.0 L255.9,454.9 L272.1,456.5 L288.4,457.8 L286.6,483.8 L284.7,510.0 L268.3,508.7 L252.0,507.1 L235.7,505.3 L216.2,502.8 L218.0,489.7 L222.6,457.6Z" fill="#cd4562"/>
<path d="M189.3,485.2 L218.0,489.7 L216.2,502.8 L235.7,505.3 L229.3,557.7 L212.2,555.5 L195.1,553.0 L178.0,550.2 L189.3,485.2Z" fill="#cd4562"/>
<path d="M235.7,505.3 L252.0,507.1 L268.3,508.7 L284.7,510.0 L304.3,511.2 L303.7,524.4 L301.7,563.9 L291.8,563.4 L276.1,562.3 L260.5,561.0 L244.9,559.5 L229.3,557.7 L235.7,505.3Z" fill="#e17a55"/>
<path d="M178.0,550.2 L195.1,553.0 L212.2,555.5 L229.3,557.7 L220.3,632.1 L198.0,629.1 L159.7,607.5 L161.2,604.7 L164.2,601.5 L162.8,595.8 L167.5,587.5 L171.0,585.2 L167.6,577.9 L167.5,575.2 L168.4,568.6 L168.8,561.3 L172.5,560.6 L176.2,560.6 L178.0,550.2Z" fill="#e17a55"/>
<path d="M289.3,445.6 L306.5,446.7 L323.7,447.4 L340.9,447.8 L358.1,447.9 L355.5,452.4 L359.2,456.2 L359.3,479.7 L357.9,484.9 L359.4,492.8 L356.9,490.9 L352.1,488.2 L345.4,489.2 L339.7,486.1 L322.0,485.7 L304.2,484.9 L286.6,483.8 L288.4,457.8 L289.3,445.6Z" fill="#aa0952"/>
<path d="M286.6,483.8 L304.2,484.9 L322.0,485.7 L339.7,486.1 L345.4,489.2 L352.1,488.2 L356.9,490.9 L359.4,492.8 L362.8,503.3 L364.8,508.5 L365.4,515.8 L366.2,518.0 L368.9,522.3 L370.9,525.6 L354.1,525.7 L337.3,525.5 L320.4,525.1 L303.7,524.4 L304.3,511.2 L284.7,510.0 L286.6,483.8Z" fill="#aa0952"/>
<path d="M303.7,524.4 L320.4,525.1 L337.3,525.5 L354.1,525.7 L370.9,525.6 L375.0,528.8 L373.6,532.1 L378.1,537.0 L378.6,565.0 L359.4,565.3 L340.2,565.2 L320.9,564.7 L301.7,563.9 L303.7,524.4Z" fill="#aa0952"/>
<path d="M291.8,563.4 L301.7,563.9 L320.9,564.7 L340.2,565.2 L359.4,565.3 L378.6,565.0 L378.8,571.6 L381.1,586.1 L381.2,609.4 L373.3,606.1 L366.9,606.9 L360.4,608.2 L355.0,606.3 L351.8,608.2 L346.4,605.6 L342.1,603.3 L336.7,602.8 L330.3,600.7 L326.1,599.5 L321.9,597.0 L322.7,571.4 L307.0,570.8 L291.4,570.0 L291.8,563.4Z" fill="#cd4562"/>
<path d="M291.4,570.0 L307.0,570.8 L322.7,571.4 L321.9,597.0 L326.1,599.5 L330.3,600.7 L336.7,602.8 L342.1,603.3 L346.4,605.6 L351.8,608.2 L355.0,606.3 L360.4,608.2 L366.9,606.9 L373.3,606.1 L381.2,609.4 L385.9,610.5 L386.1,617.5 L386.5,631.0 L389.4,637.4 L392.3,642.6 L390.9,650.6 L390.5,655.2 L389.5,661.2 L385.0,661.0 L380.4,663.0 L375.0,666.5 L370.0,670.0 L365.0,673.0 L359.6,675.4 L355.0,678.0 L351.0,681.7 L349.0,685.0 L348.0,690.0 L348.5,695.0 L350.0,700.4 L347.0,705.5 L340.0,703.0 L332.5,700.4 L328.0,697.0 L324.0,692.0 L321.0,687.0 L318.0,681.7 L314.0,676.0 L309.6,670.0 L301.0,661.9 L293.0,659.8 L287.7,663.0 L283.5,668.0 L278.3,666.0 L270.0,659.0 L265.0,650.0 L260.0,642.5 L255.0,635.0 L248.7,629.2 L248.0,626.2 L267.6,627.9 L287.1,629.3 L291.4,570.0Z" fill="#f7a944"/>
<path d="M352.1,408.5 L370.4,408.4 L370.4,403.6 L373.2,404.3 L374.9,411.5 L382.0,412.9 L386.9,413.1 L390.0,412.7 L395.9,416.6 L404.1,419.1 L409.9,418.4 L413.9,418.4 L417.1,419.3 L412.4,423.6 L406.4,428.9 L401.3,433.7 L398.7,436.4 L397.0,437.7 L397.4,445.2 L393.2,447.7 L392.0,452.3 L394.4,454.8 L393.7,459.4 L393.4,462.6 L398.2,465.7 L402.1,469.4 L407.1,473.1 L408.7,476.3 L409.1,478.2 L392.5,479.0 L375.9,479.5 L359.3,479.7 L359.2,456.2 L355.5,452.4 L358.1,447.9 L357.8,443.3 L355.9,435.5 L355.5,427.1 L353.1,418.8 L352.1,408.5Z" fill="#cd4562"/>
<path d="M359.3,479.7 L375.9,479.5 L392.5,479.0 L409.1,478.2 L410.6,484.7 L412.7,488.5 L415.4,490.8 L420.0,495.9 L419.8,500.5 L414.7,504.8 L411.9,508.2 L413.1,512.1 L409.5,517.0 L409.4,519.2 L406.2,516.5 L386.2,517.3 L366.2,517.7 L366.2,518.0 L365.4,515.8 L364.8,508.5 L362.8,503.3 L359.4,492.8 L357.9,484.9 L359.3,479.7Z" fill="#aa0952"/>
<path d="M366.2,518.0 L366.2,517.7 L386.2,517.3 L406.2,516.5 L409.4,519.2 L408.9,524.2 L413.2,530.6 L417.6,535.6 L421.8,538.0 L423.2,541.2 L421.9,547.3 L426.7,550.9 L431.4,558.5 L435.3,562.5 L435.1,566.2 L432.7,569.0 L431.4,573.1 L430.6,575.8 L423.5,576.3 L425.4,569.5 L402.1,570.8 L378.8,571.6 L378.6,565.0 L378.1,537.0 L373.6,532.1 L375.0,528.8 L370.9,525.6 L368.9,522.3 L366.2,518.0Z" fill="#cd4562"/>
<path d="M378.8,571.6 L402.1,570.8 L425.4,569.5 L423.5,576.3 L430.6,575.8 L428.4,582.6 L427.1,587.3 L425.1,589.4 L422.7,593.6 L418.9,600.4 L417.6,607.1 L416.9,612.5 L417.4,616.4 L386.2,617.7 L386.1,617.5 L385.9,610.5 L381.2,609.4 L381.1,586.1 L378.8,571.6Z" fill="#cd4562"/>
<path d="M386.2,617.7 L417.4,616.4 L419.0,621.6 L420.9,625.5 L417.9,630.9 L414.9,637.7 L413.8,643.0 L434.9,641.7 L433.9,646.4 L437.2,652.4 L432.0,653.0 L436.0,656.0 L440.0,658.0 L441.5,661.5 L444.5,666.0 L438.0,665.5 L434.0,662.7 L430.0,662.5 L425.6,664.0 L418.0,662.0 L412.5,659.8 L406.0,660.0 L400.8,661.0 L396.0,659.5 L389.5,661.2 L390.5,655.2 L390.9,650.6 L392.3,642.6 L389.4,637.4 L386.5,631.0 L386.1,617.5Z" fill="#aa0952"/>
<path d="M398.7,436.4 L404.1,435.8 L409.4,433.3 L411.0,437.0 L414.1,437.9 L417.0,440.7 L426.5,442.6 L431.2,444.0 L435.9,444.7 L438.9,451.8 L441.5,454.9 L438.4,462.3 L444.1,457.9 L446.4,452.4 L444.0,461.2 L442.9,465.2 L442.1,471.8 L440.9,479.8 L442.7,489.0 L442.7,488.9 L415.4,490.9 L415.4,490.8 L412.7,488.5 L410.6,484.7 L409.1,478.2 L408.7,476.3 L407.1,473.1 L402.1,469.4 L398.2,465.7 L393.4,462.6 L393.7,459.4 L394.4,454.8 L392.0,452.3 L393.2,447.7 L397.4,445.2 L397.0,437.7 L398.7,436.4Z" fill="#cd4562"/>
<path d="M415.4,490.9 L442.7,488.9 L442.7,489.0 L445.1,496.6 L446.4,498.9 L449.1,529.9 L448.2,533.3 L450.2,537.7 L448.1,542.6 L446.3,545.4 L445.6,548.8 L445.9,550.7 L445.1,554.8 L442.4,560.3 L437.7,559.4 L435.3,562.5 L431.4,558.5 L426.7,550.9 L421.9,547.3 L423.2,541.2 L421.8,538.0 L417.6,535.6 L413.2,530.6 L408.9,524.2 L409.4,519.2 L409.5,517.0 L413.1,512.1 L411.9,508.2 L414.7,504.8 L419.8,500.5 L420.0,495.9 L415.4,490.8Z" fill="#e17a55"/>
<path d="M446.4,498.9 L449.5,499.4 L453.1,497.6 L472.6,495.5 L472.6,496.3 L476.6,530.1 L476.8,534.2 L471.4,535.9 L468.6,542.5 L463.3,545.7 L458.3,547.6 L450.2,549.0 L445.9,550.7 L445.6,548.8 L446.3,545.4 L448.1,542.6 L450.2,537.7 L448.2,533.3 L449.1,529.9 L446.4,498.9Z" fill="#aa0952"/>
<path d="M414.1,437.9 L419.5,434.5 L426.6,432.1 L430.4,428.8 L433.2,429.3 L431.8,433.6 L439.4,432.7 L441.6,436.6 L449.0,436.5 L455.0,432.6 L463.0,431.1 L467.1,434.5 L472.0,436.5 L474.2,439.5 L467.1,441.7 L459.5,440.2 L452.4,443.3 L449.0,446.3 L446.2,445.9 L441.5,454.9 L438.9,451.8 L435.9,444.7 L431.2,444.0 L426.5,442.6 L417.0,440.7 L414.1,437.9Z" fill="#e17a55"/>
<path d="M453.1,497.6 L455.0,495.6 L457.4,490.1 L457.6,483.4 L454.3,474.6 L453.2,468.1 L455.0,458.8 L460.4,456.9 L461.7,451.5 L464.8,445.9 L466.8,443.3 L473.2,446.1 L480.2,449.2 L481.8,454.2 L481.1,463.5 L478.2,469.8 L482.4,466.0 L486.4,463.4 L490.5,468.8 L493.3,476.3 L493.3,481.6 L488.1,486.3 L487.7,490.4 L485.8,494.2 L485.8,494.2 L472.6,496.3 L472.6,495.5 L453.1,497.6Z" fill="#e17a55"/>
<path d="M472.6,496.3 L485.8,494.2 L490.4,495.9 L493.4,496.2 L500.2,495.2 L503.1,494.8 L507.4,490.8 L513.5,486.8 L516.3,504.1 L515.2,505.5 L516.5,510.0 L515.0,516.2 L512.2,521.4 L507.4,526.1 L506.2,528.9 L503.8,533.3 L500.1,536.2 L495.6,532.9 L488.7,535.0 L483.4,533.4 L479.9,529.9 L476.6,530.1 L472.6,496.3Z" fill="#cd4562"/>
<path d="M445.9,550.7 L450.2,549.0 L458.3,547.6 L463.3,545.7 L468.6,542.5 L471.4,535.9 L476.8,534.2 L476.6,530.1 L479.9,529.9 L483.4,533.4 L488.7,535.0 L495.6,532.9 L500.1,536.2 L500.6,539.8 L504.5,545.2 L508.2,546.8 L501.7,554.3 L497.8,556.8 L492.4,561.6 L468.3,564.0 L447.0,565.5 L447.0,567.9 L432.7,569.0 L435.1,566.2 L435.3,562.5 L437.7,559.4 L442.4,560.3 L445.1,554.8 L445.9,550.7Z" fill="#aa0952"/>
<path d="M432.7,569.0 L447.0,567.9 L447.0,565.5 L468.3,564.0 L492.4,561.6 L513.0,558.8 L513.3,561.9 L510.2,565.8 L504.7,567.9 L499.9,571.9 L496.1,574.8 L491.1,577.7 L488.3,580.8 L488.4,583.5 L488.4,583.4 L474.8,585.0 L447.4,587.8 L425.1,589.4 L427.1,587.3 L428.4,582.6 L430.6,575.8 L431.4,573.1 L432.7,569.0Z" fill="#e17a55"/>
<path d="M425.1,589.4 L447.4,587.8 L448.6,589.0 L448.0,628.8 L450.6,650.7 L444.8,648.9 L437.2,652.4 L433.9,646.4 L434.9,641.7 L413.8,643.0 L414.9,637.7 L417.9,630.9 L420.9,625.5 L419.0,621.6 L417.4,616.4 L416.9,612.5 L417.6,607.1 L418.9,600.4 L422.7,593.6 L425.1,589.4Z" fill="#aa0952"/>
<path d="M474.8,585.0 L488.4,583.4 L488.4,583.5 L501.2,581.7 L499.2,586.0 L504.4,588.6 L508.4,594.1 L513.3,598.0 L516.3,599.6 L522.1,605.4 L524.0,610.4 L527.8,616.5 L530.8,617.0 L529.0,624.4 L527.3,635.2 L521.1,635.6 L521.3,640.7 L519.3,638.2 L489.5,640.4 L487.5,636.7 L485.4,629.0 L485.4,619.7 L482.6,612.5 L474.8,585.3Z" fill="#e17a55"/>
<path d="M460.4,649.1 L461.3,644.2 L458.6,639.8 L487.5,636.7 L489.5,640.4 L519.3,638.2 L521.3,640.7 L521.1,635.6 L527.3,635.2 L532.0,644.5 L535.0,651.0 L538.5,658.0 L542.0,665.6 L546.0,673.0 L549.5,681.6 L551.0,687.0 L552.4,693.0 L553.0,699.0 L551.0,703.5 L547.0,704.5 L542.0,702.0 L537.0,698.0 L532.0,693.0 L528.0,688.0 L524.7,681.6 L521.0,676.0 L519.0,670.0 L518.0,664.0 L516.0,658.0 L512.5,655.0 L508.7,651.5 L505.0,650.5 L500.0,649.6 L497.5,650.5 L494.0,654.0 L491.0,653.8 L488.0,651.5 L482.5,649.5 L476.6,646.6 L470.0,646.0 L466.0,645.5 L460.4,649.1Z" fill="#f7a944"/>
<path d="M501.2,581.7 L508.3,578.1 L522.5,576.6 L522.7,577.9 L523.9,577.0 L526.0,580.4 L537.8,578.7 L551.8,588.9 L547.8,594.4 L546.4,598.7 L540.0,606.5 L534.9,612.7 L530.8,617.0 L527.8,616.5 L524.0,610.4 L522.1,605.4 L516.3,599.6 L513.3,598.0 L508.4,594.1 L504.4,588.6 L499.2,586.0 L501.2,581.7Z" fill="#aa0952"/>
<path d="M488.4,583.5 L488.3,580.8 L491.1,577.7 L496.1,574.8 L499.9,571.9 L504.7,567.9 L510.2,565.8 L513.3,561.9 L513.0,558.8 L545.8,553.8 L572.7,548.5 L574.6,553.9 L566.3,557.6 L576.2,556.1 L579.5,559.9 L579.9,564.8 L576.0,565.4 L568.5,565.6 L575.6,568.8 L571.0,575.2 L569.1,574.2 L561.8,581.0 L558.1,587.8 L551.8,588.9 L537.8,578.7 L526.0,580.4 L523.9,577.0 L522.7,577.9 L522.5,576.6 L508.3,578.1 L501.2,581.7 L488.4,583.5Z" fill="#cd4562"/>
<path d="M492.4,561.6 L513.0,558.8 L545.8,553.8 L572.7,548.5 L570.4,543.8 L567.3,544.2 L560.0,542.1 L566.3,542.0 L565.5,540.5 L560.2,538.0 L565.9,538.4 L565.5,535.8 L558.0,532.2 L565.1,533.9 L564.6,531.3 L556.6,528.2 L553.4,527.5 L555.0,521.8 L553.8,520.3 L549.6,518.8 L546.9,516.4 L546.3,519.0 L540.4,515.9 L536.9,525.2 L533.8,530.5 L529.4,529.2 L525.2,544.0 L520.0,547.8 L516.4,549.6 L511.8,550.8 L508.2,546.8 L501.7,554.3 L497.8,556.8 L492.4,561.6Z" fill="#cd4562"/>
<path d="M568.6,530.4 L571.1,529.9 L575.0,528.0 L572.9,535.6 L570.4,541.3 L569.4,539.0 L570.3,533.5Z" fill="#cd4562"/>
<path d="M520.1,481.8 L513.5,486.8 L516.3,504.1 L518.3,516.1 L528.6,514.4 L546.7,511.0 L564.8,507.4 L566.4,505.5 L568.2,505.6 L570.9,502.9 L573.8,499.6 L570.0,496.4 L568.0,494.1 L568.1,490.1 L569.3,486.4 L570.9,483.9 L566.7,481.6 L562.8,477.1 L541.8,481.4 L520.7,485.3 L520.1,481.8Z" fill="#e17a55"/>
<path d="M546.9,516.4 L544.9,513.0 L541.3,512.6 L539.0,514.1 L532.9,517.0 L529.7,521.1 L528.6,514.4 L546.7,511.0 L564.8,507.4 L569.2,523.4 L575.7,522.1 L575.0,528.0 L571.1,529.9 L568.6,530.4 L563.1,524.2 L562.8,517.5 L562.7,510.1 L560.1,514.7 L560.0,519.4 L562.6,527.0 L564.6,531.3 L556.6,528.2 L553.4,527.5 L555.0,521.8 L553.8,520.3 L549.6,518.8 L546.9,516.4Z" fill="#e17a55"/>
<path d="M570.9,483.9 L579.5,486.8 L579.2,490.9 L577.6,494.0 L580.2,494.1 L581.3,503.3 L579.4,508.5 L575.8,515.6 L571.8,511.5 L567.5,508.4 L568.2,505.6 L570.9,502.9 L573.8,499.6 L570.0,496.4 L568.0,494.1 L568.1,490.1 L569.3,486.4 L570.9,483.9Z" fill="#aa0952"/>
<path d="M520.1,481.8 L525.9,475.1 L526.8,472.2 L524.6,468.0 L534.2,464.6 L539.2,465.2 L545.6,463.3 L550.5,458.9 L549.6,454.5 L547.6,451.8 L551.8,446.7 L555.3,440.6 L560.3,437.5 L572.6,434.6 L573.7,441.1 L575.8,450.0 L577.8,452.2 L580.2,463.1 L580.1,472.5 L581.9,482.2 L582.9,483.3 L580.8,485.2 L581.8,486.3 L581.0,489.2 L579.2,490.9 L579.5,486.8 L570.9,483.9 L566.7,481.6 L562.8,477.1 L541.8,481.4 L520.7,485.3 L520.1,481.8Z" fill="#fdd223"/>
<path d="M580.2,492.1 L586.4,490.2 L594.2,485.1 L598.8,481.2 L594.3,481.2 L591.5,484.2 L585.5,486.4 L581.4,488.4Z" fill="#fbe792"/>
<path d="M608.3,468.8 L612.1,468.2 L613.5,466.5 L612.0,464.1 L614.2,465.9 L614.9,469.1 L608.9,472.0Z" fill="#f0dccd"/>
<path d="M580.1,472.5 L596.3,469.1 L598.0,478.0 L588.2,481.1 L581.8,486.3 L580.8,485.2 L582.9,483.3 L581.9,482.2 L580.1,472.5Z" fill="#e17a55"/>
<path d="M596.3,469.1 L600.2,467.9 L603.0,471.8 L604.4,473.9 L601.2,476.5 L598.0,478.0 L596.3,469.1Z" fill="#e17a55"/>
<path d="M580.1,472.5 L580.2,463.1 L587.8,461.5 L598.7,459.1 L602.6,455.8 L605.4,458.0 L602.7,462.8 L606.7,466.5 L608.5,468.8 L608.9,472.0 L604.4,473.9 L603.0,471.8 L600.2,467.9 L596.3,469.1 L580.1,472.5Z" fill="#e17a55"/>
<path d="M592.1,425.8 L594.4,425.8 L596.6,417.9 L596.5,412.5 L597.0,405.7 L601.2,394.5 L604.9,396.8 L609.6,393.4 L615.0,395.6 L619.4,410.1 L623.5,412.9 L625.0,417.9 L631.0,421.5 L626.2,427.0 L621.6,431.1 L616.2,432.7 L614.7,437.9 L609.0,442.1 L605.9,445.0 L604.0,448.9 L603.0,452.9 L599.5,449.5 L596.2,438.2 L592.1,425.8Z" fill="#aa0952"/></g><g fill="none" stroke="#000" stroke-opacity="0.3" stroke-width="0.9"><path d="M356,297.5 H375 A47.5,47.5 0 0 1 422.5,345 V465.4"/><path d="M357.5,327 H370 A13.5,15 0 0 1 383.5,342 V435.5"/><path d="M320,365 V463"/><path d="M484,327 H459 A19.5,19.5 0 0 0 439.5,346.5 V522"/><path d="M484,356.4 H472.5 A11.7,11.7 0 0 0 460.8,368 V521.5"/><path d="M517,393 V445 A27,27 0 0 1 490,472 H471.5"/><path d="M583,327 H570 A12.5,12.5 0 0 0 557.5,339.5 V492.5"/><path d="M583,357 H574 A7,7 0 0 0 567,364 V450"/><path d="M636,411.5 H609.5"/><path d="M624.5,440.4 H606 A15.3,15.3 0 0 0 590.7,455.7 V463.5"/><path d="M636.7,471.5 H598"/><path d="M623.3,490 H598 A10.5,10.5 0 0 1 587.5,479.5 V474.5"/><path d="M623.3,508.9 H575.5"/><path d="M623.3,527.8 H565"/><path d="M601,547 H564 A16,16 0 0 1 548,531 V517"/><path d="M623.3,566.2 H550 A17,17 0 0 1 533,549 V542.3"/><path d="M600.4,584.3 H553.3"/><path d="M600.5,603.3 H531"/><path d="M582.5,626 H506"/><path d="M582.5,671.5 H532.5"/><path d="M528.4,724 H492 A20,20 0 0 1 472,704 V576.75"/><path d="M528.4,749 H487 A25,25 0 0 1 462,724 V556"/><path d="M488.7,774.5 H472 A30,30 0 0 1 442,744.5 V618.75"/><path d="M351,724.2 H364 A21,21 0 0 0 385,703 V546"/><path d="M352,749.6 H367 A30,30 0 0 0 397.5,719.5 V592"/><path d="M354,775.6 H373 A33,33 0 0 0 406,742.5 V639"/><path d="M275.5,688.5 A76,76 0 0 0 351.5,612.5 V587"/><path d="M85.5,675.5 H145.5"/><path d="M85,406.8 H133"/><path d="M85,543 H121.5"/></g><g fill="#1a1213"><circle cx="133.2" cy="407.0" r="2"/><circle cx="121.3" cy="543.0" r="2"/><circle cx="319.3" cy="463.0" r="2"/><circle cx="383.3" cy="435.5" r="2"/><circle cx="422.3" cy="465.4" r="2"/><circle cx="439.6" cy="522.0" r="2"/><circle cx="460.8" cy="521.5" r="2"/><circle cx="471.3" cy="472.3" r="2"/><circle cx="557.4" cy="492.5" r="2"/><circle cx="567.0" cy="450.4" r="2"/><circle cx="609.5" cy="411.0" r="2"/><circle cx="590.7" cy="463.7" r="2"/><circle cx="598.0" cy="471.6" r="2"/><circle cx="587.5" cy="474.6" r="2"/><circle cx="565.0" cy="527.8" r="2"/><circle cx="548.0" cy="517.0" r="2"/><circle cx="533.0" cy="542.3" r="2"/><circle cx="553.2" cy="584.3" r="2"/><circle cx="531.0" cy="603.0" r="2"/><circle cx="506.0" cy="626.0" r="2"/><circle cx="532.5" cy="671.7" r="2"/><circle cx="471.8" cy="576.8" r="2"/><circle cx="461.8" cy="556.1" r="2"/><circle cx="442.2" cy="618.8" r="2"/><circle cx="384.0" cy="546.0" r="2"/><circle cx="397.3" cy="592.0" r="2"/><circle cx="405.8" cy="639.2" r="2"/><circle cx="351.2" cy="587.0" r="2"/></g><g font-family="'Liberation Sans',sans-serif"><text x="296.8" y="301.3" font-size="7.8" fill="#2b2626" stroke="#2b2626" stroke-width="0.22">WISCONSIN</text><rect x="343.8" y="293.7" width="0.9" height="9.6" fill="#8d8a86"/><text x="346.4" y="301.3" font-size="11" font-weight="700" fill="#2b2626">7</text><text x="296.1" y="330.3" font-size="7.8" fill="#2b2626" stroke="#2b2626" stroke-width="0.22">MINNESOTA</text><rect x="343.8" y="322.7" width="0.9" height="9.6" fill="#8d8a86"/><text x="346.4" y="330.3" font-size="11" font-weight="700" fill="#2b2626">4</text><text x="280.4" y="360.3" font-size="7.8" fill="#2b2626" stroke="#2b2626" stroke-width="0.22">SOUTH DAKOTA</text><rect x="343.3" y="352.7" width="0.9" height="9.6" fill="#8d8a86"/><text x="345.9" y="360.3" font-size="11" font-weight="700" fill="#2b2626">1</text><text x="487.0" y="329.3" font-size="7.8" fill="#2b2626" stroke="#2b2626" stroke-width="0.22">ILLINOIS</text><rect x="521.0" y="321.7" width="0.9" height="9.6" fill="#8d8a86"/><text x="523.6" y="329.3" font-size="11" font-weight="700" fill="#2b2626">23</text><text x="487.0" y="359.3" font-size="7.8" fill="#2b2626" stroke="#2b2626" stroke-width="0.22">INDIANA</text><rect x="520.6" y="351.7" width="0.9" height="9.6" fill="#8d8a86"/><text x="523.1" y="359.3" font-size="11" font-weight="700" fill="#2b2626">3</text><text x="487.0" y="389.2" font-size="7.8" fill="#2b2626" stroke="#2b2626" stroke-width="0.22">MICHIGAN</text><rect x="528.0" y="381.6" width="0.9" height="9.6" fill="#8d8a86"/><text x="530.5" y="389.2" font-size="11" font-weight="700" fill="#2b2626">11</text><text x="586.5" y="329.3" font-size="7.8" fill="#2b2626" stroke="#2b2626" stroke-width="0.22">PENNSYLVANIA</text><rect x="647.1" y="321.7" width="0.9" height="9.6" fill="#8d8a86"/><text x="649.7" y="329.3" font-size="11" font-weight="700" fill="#2b2626">18</text><text x="586.5" y="359.3" font-size="7.8" fill="#2b2626" stroke="#2b2626" stroke-width="0.22">NEW YORK</text><rect x="630.8" y="351.7" width="0.9" height="9.6" fill="#8d8a86"/><text x="633.3" y="359.3" font-size="11" font-weight="700" fill="#2b2626">135</text><text x="639.8" y="414.5" font-size="7.8" fill="#2b2626" stroke="#2b2626" stroke-width="0.22">MAINE</text><rect x="666.5" y="406.9" width="0.9" height="9.6" fill="#8d8a86"/><text x="669.0" y="414.5" font-size="11" font-weight="700" fill="#2b2626">1</text><text x="626.7" y="443.3" font-size="7.8" fill="#2b2626" stroke="#2b2626" stroke-width="0.22">MASSACHUSETTS</text><rect x="698.0" y="435.7" width="0.9" height="9.6" fill="#8d8a86"/><text x="700.5" y="443.3" font-size="11" font-weight="700" fill="#2b2626">22</text><text x="638.9" y="474.0" font-size="7.8" fill="#2b2626" stroke="#2b2626" stroke-width="0.22">RHODE ISLAND</text><rect x="699.4" y="466.4" width="0.9" height="9.6" fill="#8d8a86"/><text x="701.9" y="474.0" font-size="11" font-weight="700" fill="#2b2626">1</text><text x="625.5" y="493.0" font-size="7.8" fill="#2b2626" stroke="#2b2626" stroke-width="0.22">CONNECTICUT</text><rect x="684.2" y="485.4" width="0.9" height="9.6" fill="#8d8a86"/><text x="686.8" y="493.0" font-size="11" font-weight="700" fill="#2b2626">13</text><text x="625.5" y="511.8" font-size="7.8" fill="#2b2626" stroke="#2b2626" stroke-width="0.22">NEW JERSEY</text><rect x="678.2" y="504.2" width="0.9" height="9.6" fill="#8d8a86"/><text x="680.7" y="511.8" font-size="11" font-weight="700" fill="#2b2626">5</text><text x="625.5" y="531.0" font-size="7.8" fill="#2b2626" stroke="#2b2626" stroke-width="0.22">MARYLAND</text><rect x="670.7" y="523.4" width="0.9" height="9.6" fill="#8d8a86"/><text x="673.2" y="531.0" font-size="11" font-weight="700" fill="#2b2626">11</text><text x="603.0" y="549.4" font-size="7.8" fill="#2b2626" stroke="#2b2626" stroke-width="0.22">WASHINGTON D.C.</text><rect x="676.0" y="541.8" width="0.9" height="9.6" fill="#8d8a86"/><text x="678.6" y="549.4" font-size="11" font-weight="700" fill="#2b2626">11</text><text x="625.0" y="568.7" font-size="7.8" fill="#2b2626" stroke="#2b2626" stroke-width="0.22">VIRGINIA</text><rect x="661.2" y="561.1" width="0.9" height="9.6" fill="#8d8a86"/><text x="663.7" y="568.7" font-size="11" font-weight="700" fill="#2b2626">7</text><text x="602.8" y="587.3" font-size="7.8" fill="#2b2626" stroke="#2b2626" stroke-width="0.22">NORTH CAROLINA</text><rect x="674.4" y="579.7" width="0.9" height="9.6" fill="#8d8a86"/><text x="676.9" y="587.3" font-size="11" font-weight="700" fill="#2b2626">6</text><text x="602.8" y="606.2" font-size="7.8" fill="#2b2626" stroke="#2b2626" stroke-width="0.22">SOUTH CAROLINA</text><rect x="674.1" y="598.6" width="0.9" height="9.6" fill="#8d8a86"/><text x="676.6" y="606.2" font-size="11" font-weight="700" fill="#2b2626">1</text><text x="584.7" y="629.0" font-size="7.8" fill="#2b2626" stroke="#2b2626" stroke-width="0.22">GEORGIA</text><rect x="623.1" y="621.4" width="0.9" height="9.6" fill="#8d8a86"/><text x="625.6" y="629.0" font-size="11" font-weight="700" fill="#2b2626">18</text><text x="584.7" y="674.0" font-size="7.8" fill="#2b2626" stroke="#2b2626" stroke-width="0.22">FLORIDA</text><rect x="620.5" y="666.4" width="0.9" height="9.6" fill="#8d8a86"/><text x="623.0" y="674.0" font-size="11" font-weight="700" fill="#2b2626">78</text><text x="299.3" y="727.0" font-size="7.8" fill="#2b2626" stroke="#2b2626" stroke-width="0.22">MISSOURI</text><rect x="339.8" y="719.4" width="0.9" height="9.6" fill="#8d8a86"/><text x="342.4" y="727.0" font-size="11" font-weight="700" fill="#2b2626">7</text><text x="295.7" y="752.5" font-size="7.8" fill="#2b2626" stroke="#2b2626" stroke-width="0.22">ARKANSAS</text><rect x="340.1" y="744.9" width="0.9" height="9.6" fill="#8d8a86"/><text x="342.7" y="752.5" font-size="11" font-weight="700" fill="#2b2626">6</text><text x="298.8" y="778.5" font-size="7.8" fill="#2b2626" stroke="#2b2626" stroke-width="0.22">LOUISIANA</text><rect x="342.3" y="770.9" width="0.9" height="9.6" fill="#8d8a86"/><text x="344.9" y="778.5" font-size="11" font-weight="700" fill="#2b2626">1</text><text x="532.0" y="727.0" font-size="7.8" fill="#2b2626" stroke="#2b2626" stroke-width="0.22">TENNESSEE</text><rect x="581.2" y="719.4" width="0.9" height="9.6" fill="#8d8a86"/><text x="583.7" y="727.0" font-size="11" font-weight="700" fill="#2b2626">11</text><text x="532.0" y="752.0" font-size="7.8" fill="#2b2626" stroke="#2b2626" stroke-width="0.22">KENTUCKY</text><rect x="576.4" y="744.4" width="0.9" height="9.6" fill="#8d8a86"/><text x="579.0" y="752.0" font-size="11" font-weight="700" fill="#2b2626">1</text><text x="491.0" y="777.5" font-size="7.8" fill="#2b2626" stroke="#2b2626" stroke-width="0.22">MISSISSIPPI</text><rect x="539.3" y="769.9" width="0.9" height="9.6" fill="#8d8a86"/><text x="541.9" y="777.5" font-size="11" font-weight="700" fill="#2b2626">2</text><text x="215.9" y="691.0" font-size="7.8" fill="#2b2626" stroke="#2b2626" stroke-width="0.22">OKLAHOMA</text><rect x="262.0" y="683.4" width="0.9" height="9.6" fill="#8d8a86"/><text x="264.6" y="691.0" font-size="11" font-weight="700" fill="#2b2626">8</text><text x="41.0" y="679.0" font-size="7.8" fill="#2b2626" stroke="#2b2626" stroke-width="0.22">HAWAII</text><rect x="70.1" y="671.4" width="0.9" height="9.6" fill="#8d8a86"/><text x="72.7" y="679.0" font-size="11" font-weight="700" fill="#2b2626">2</text><text x="10.0" y="410.0" font-size="7.8" fill="#2b2626" stroke="#2b2626" stroke-width="0.22">WASHINGTON</text><rect x="65.2" y="402.4" width="0.9" height="9.6" fill="#8d8a86"/><text x="67.8" y="410.0" font-size="11" font-weight="700" fill="#2b2626">13</text><text x="10.3" y="546.2" font-size="7.8" fill="#2b2626" stroke="#2b2626" stroke-width="0.22">CALIFORNIA</text><rect x="59.1" y="538.6" width="0.9" height="9.6" fill="#8d8a86"/><text x="61.6" y="546.2" font-size="11" font-weight="700" fill="#2b2626">186</text><text x="209.0" y="430.4" font-size="7.8" fill="#ffffff" stroke="#ffffff" stroke-width="0.22">MONTANA</text><rect x="249.4" y="422.8" width="0.9" height="9.6" fill="#f3c9d3"/><text x="251.9" y="430.4" font-size="11" font-weight="700" fill="#ffffff">4</text><text x="109.0" y="449.4" font-size="7.8" fill="#ffffff" stroke="#ffffff" stroke-width="0.22">OREGON</text><rect x="145.6" y="441.8" width="0.9" height="9.6" fill="#f3c9d3"/><text x="148.2" y="449.4" font-size="11" font-weight="700" fill="#ffffff">3</text><text x="172.5" y="471.4" font-size="7.8" fill="#ffffff" stroke="#ffffff" stroke-width="0.22">IDAHO</text><rect x="199.2" y="463.8" width="0.9" height="9.6" fill="#f3c9d3"/><text x="201.7" y="471.4" font-size="11" font-weight="700" fill="#ffffff">1</text><text x="226.0" y="484.4" font-size="7.8" fill="#ffffff" stroke="#ffffff" stroke-width="0.22">WYOMING</text><rect x="266.9" y="476.8" width="0.9" height="9.6" fill="#f3c9d3"/><text x="269.5" y="484.4" font-size="11" font-weight="700" fill="#ffffff">6</text><text x="132.5" y="510.4" font-size="7.8" fill="#2b2626" stroke="#2b2626" stroke-width="0.22">NEVADA</text><rect x="165.9" y="502.8" width="0.9" height="9.6" fill="#8d8a86"/><text x="168.5" y="510.4" font-size="11" font-weight="700" fill="#2b2626">17</text><text x="192.5" y="529.4" font-size="7.8" fill="#ffffff" stroke="#ffffff" stroke-width="0.22">UTAH</text><rect x="215.1" y="521.8" width="0.9" height="9.6" fill="#f3c9d3"/><text x="217.7" y="529.4" font-size="11" font-weight="700" fill="#ffffff">6</text><text x="236.0" y="538.9" font-size="7.8" fill="#2b2626" stroke="#2b2626" stroke-width="0.22">COLORADO</text><rect x="282.6" y="531.3" width="0.9" height="9.6" fill="#8d8a86"/><text x="285.1" y="538.9" font-size="11" font-weight="700" fill="#2b2626">12</text><text x="300.0" y="504.4" font-size="7.8" fill="#ffffff" stroke="#ffffff" stroke-width="0.22">NEBRASKA</text><rect x="344.4" y="496.8" width="0.9" height="9.6" fill="#f3c9d3"/><text x="347.0" y="504.4" font-size="11" font-weight="700" fill="#ffffff">3</text><text x="317.5" y="545.4" font-size="7.8" fill="#ffffff" stroke="#ffffff" stroke-width="0.22">KANSAS</text><rect x="351.1" y="537.8" width="0.9" height="9.6" fill="#f3c9d3"/><text x="353.6" y="545.4" font-size="11" font-weight="700" fill="#ffffff">2</text><text x="170.0" y="596.4" font-size="7.8" fill="#2b2626" stroke="#2b2626" stroke-width="0.22">ARIZONA</text><rect x="206.6" y="588.8" width="0.9" height="9.6" fill="#8d8a86"/><text x="209.2" y="596.4" font-size="11" font-weight="700" fill="#2b2626">11</text><text x="298.0" y="643.4" font-size="7.8" fill="#2b2626" stroke="#2b2626" stroke-width="0.22">TEXAS</text><rect x="325.5" y="635.8" width="0.9" height="9.6" fill="#8d8a86"/><text x="328.1" y="643.4" font-size="11" font-weight="700" fill="#2b2626">73</text><text x="371.5" y="502.0" font-size="7.8" fill="#ffffff" stroke="#ffffff" stroke-width="0.22">IOWA</text><rect x="394.0" y="494.4" width="0.9" height="9.6" fill="#f3c9d3"/><text x="396.5" y="502.0" font-size="11" font-weight="700" fill="#ffffff">1</text><text x="479.5" y="512.2" font-size="7.8" fill="#ffffff" stroke="#ffffff" stroke-width="0.22">OHIO</text><rect x="501.4" y="504.6" width="0.9" height="9.6" fill="#f3c9d3"/><text x="503.9" y="512.2" font-size="11" font-weight="700" fill="#ffffff">7</text></g><rect x="57.5" y="802.7" width="602.5" height="1.7" fill="#1f1b1b"/><g font-family="'Liberation Sans',sans-serif" fill="#2b2727"><text x="447.5" y="816.6" font-size="6.9" textLength="40" lengthAdjust="spacingAndGlyphs">THERE ARE</text><text x="492.3" y="817.4" font-size="11" font-weight="700" textLength="20" lengthAdjust="spacingAndGlyphs">759</text><text x="516" y="816.6" font-size="6.9" textLength="141.5" lengthAdjust="spacingAndGlyphs">BILLIONAIRES IN THE UNITED STATES</text></g><g font-family="'Liberation Sans',sans-serif"><text x="58.9" y="874.7" font-size="29.3" font-weight="700" fill="rgba(90,85,78,0.25)" textLength="51.6" lengthAdjust="spacingAndGlyphs" >WHICH</text><text x="58.1" y="874.0" font-size="29.3" font-weight="700" fill="#fff" textLength="51.6" lengthAdjust="spacingAndGlyphs" stroke="#fff" stroke-width="0.5">WHICH</text><text x="117.6" y="874.7" font-size="29.3" font-weight="700" fill="rgba(90,85,78,0.25)" textLength="52.9" lengthAdjust="spacingAndGlyphs" >STATES</text><text x="116.9" y="874.0" font-size="29.3" font-weight="700" fill="#fff" textLength="52.9" lengthAdjust="spacingAndGlyphs" stroke="#fff" stroke-width="0.5">STATES</text><text x="177.6" y="874.7" font-size="29.3" font-weight="700" fill="rgba(90,85,78,0.25)" textLength="37.6" lengthAdjust="spacingAndGlyphs" >HAVE</text><text x="176.9" y="874.0" font-size="29.3" font-weight="700" fill="#fff" textLength="37.6" lengthAdjust="spacingAndGlyphs" stroke="#fff" stroke-width="0.5">HAVE</text><text x="220.7" y="874.7" font-size="29.3" font-weight="700" fill="rgba(90,85,78,0.25)" textLength="27.9" lengthAdjust="spacingAndGlyphs" >THE</text><text x="220.0" y="874.0" font-size="29.3" font-weight="700" fill="#fff" textLength="27.9" lengthAdjust="spacingAndGlyphs" stroke="#fff" stroke-width="0.5">THE</text><text x="255.0" y="874.7" font-size="29.3" font-weight="700" fill="rgba(90,85,78,0.25)" textLength="40.6" lengthAdjust="spacingAndGlyphs" >MOST</text><text x="254.3" y="874.0" font-size="29.3" font-weight="700" fill="#fff" textLength="40.6" lengthAdjust="spacingAndGlyphs" stroke="#fff" stroke-width="0.5">MOST</text><text x="302.4" y="874.7" font-size="29.3" font-weight="700" fill="rgba(90,85,78,0.25)" textLength="103.9" lengthAdjust="spacingAndGlyphs" >BILLIONAIRES</text><text x="301.7" y="874.0" font-size="29.3" font-weight="700" fill="#fff" textLength="103.9" lengthAdjust="spacingAndGlyphs" stroke="#fff" stroke-width="0.5">BILLIONAIRES</text><text x="414.0" y="874.7" font-size="29.3" font-weight="700" fill="rgba(90,85,78,0.25)" textLength="27.3" lengthAdjust="spacingAndGlyphs" >PER</text><text x="413.3" y="874.0" font-size="29.3" font-weight="700" fill="#fff" textLength="27.3" lengthAdjust="spacingAndGlyphs" stroke="#fff" stroke-width="0.5">PER</text><text x="448.4" y="874.7" font-size="29.3" font-weight="700" fill="rgba(90,85,78,0.25)" textLength="57.6" lengthAdjust="spacingAndGlyphs" >MILLION</text><text x="447.7" y="874.0" font-size="29.3" font-weight="700" fill="#fff" textLength="57.6" lengthAdjust="spacingAndGlyphs" stroke="#fff" stroke-width="0.5">MILLION</text><text x="514.0" y="874.7" font-size="29.3" font-weight="700" fill="rgba(90,85,78,0.25)" textLength="64.3" lengthAdjust="spacingAndGlyphs" >PEOPLE?</text><text x="513.3" y="874.0" font-size="29.3" font-weight="700" fill="#fff" textLength="64.3" lengthAdjust="spacingAndGlyphs" stroke="#fff" stroke-width="0.5">PEOPLE?</text></g></svg><div class="row" style="top:896.50px"><div class="strip"></div><div class="num">1</div><div class="nm">WYOMING</div><div class="bar" style="width:560.6px;background:#cd4562"></div><div class="val in" style="left:670.1px">10.287</div></div><div class="row" style="top:915.65px"><div class="strip"></div><div class="num">2</div><div class="nm">NEW YORK</div><div class="bar" style="width:377.4px;background:#fdd223"></div><div class="val" style="left:528.9px">6.924</div></div><div class="row" style="top:934.80px"><div class="strip"></div><div class="num">3</div><div class="nm">NEVADA</div><div class="bar" style="width:288.7px;background:#e17a55"></div><div class="val" style="left:440.2px">5.297</div></div><div class="row" style="top:953.95px"><div class="strip"></div><div class="num">4</div><div class="nm">CALIFORNIA</div><div class="bar" style="width:260.5px;background:#fdd223"></div><div class="val" style="left:412.0px">4.780</div></div><div class="row" style="top:973.10px"><div class="strip"></div><div class="num">5</div><div class="nm">CONNECTICUT</div><div class="bar" style="width:195.2px;background:#e17a55"></div><div class="val" style="left:346.7px">3.582</div></div><div class="row" style="top:992.25px"><div class="strip"></div><div class="num">6</div><div class="nm">MONTANA</div><div class="bar" style="width:191.3px;background:#cd4562"></div><div class="val" style="left:342.8px">3.510</div></div><div class="row" style="top:1011.40px"><div class="strip"></div><div class="num">7</div><div class="nm">FLORIDA</div><div class="bar" style="width:187.6px;background:#f7a944"></div><div class="val" style="left:339.1px">3.442</div></div><div class="row" style="top:1030.55px"><div class="strip"></div><div class="num">8</div><div class="nm">MASSACHUSETTS</div><div class="bar" style="width:171.9px;background:#e17a55"></div><div class="val" style="left:323.4px">3.154</div></div><div class="row" style="top:1049.70px"><div class="strip"></div><div class="num">9</div><div class="nm">TEXAS</div><div class="bar" style="width:130.4px;background:#f7a944"></div><div class="val" style="left:281.9px">2.393</div></div><div class="row" style="top:1068.85px"><div class="strip"></div><div class="num">10</div><div class="nm">COLORADO</div><div class="bar" style="width:111.5px;background:#e17a55"></div><div class="val" style="left:263.0px">2.045</div></div><div class="row" style="top:1088.00px"><div class="strip"></div><div class="num">11</div><div class="nm">OKLAHOMA</div><div class="bar" style="width:107.7px;background:#cd4562"></div><div class="val" style="left:259.2px">1.976</div></div><div class="row" style="top:1107.15px"><div class="strip"></div><div class="num">12</div><div class="nm">ARKANSAS</div><div class="bar" style="width:106.8px;background:#cd4562"></div><div class="val" style="left:258.3px">1.959</div></div><div class="row" style="top:1126.30px"><div class="strip"></div><div class="num">13</div><div class="nm">ILLINOIS</div><div class="bar" style="width:100.4px;background:#e17a55"></div><div class="val" style="left:251.9px">1.843</div></div><div class="row" style="top:1145.45px"><div class="strip"></div><div class="num">14</div><div class="nm">MARYLAND</div><div class="bar" style="width:97.4px;background:#e17a55"></div><div class="val" style="left:248.9px">1.787</div></div><div class="row" style="top:1164.60px"><div class="strip"></div><div class="num">15</div><div class="nm">UTAH</div><div class="bar" style="width:95.5px;background:#cd4562"></div><div class="val" style="left:247.0px">1.753</div></div><div class="row" style="top:1183.75px"><div class="strip"></div><div class="num">16</div><div class="nm">WASHINGTON</div><div class="bar" style="width:90.5px;background:#e17a55"></div><div class="val" style="left:242.0px">1.660</div></div><div class="row" style="top:1202.90px"><div class="strip"></div><div class="num">17</div><div class="nm">GEORGIA</div><div class="bar" style="width:88.9px;background:#e17a55"></div><div class="val" style="left:240.4px">1.631</div></div><div class="row" style="top:1222.05px"><div class="strip"></div><div class="num">18</div><div class="nm">TENNESSEE</div><div class="bar" style="width:84.0px;background:#e17a55"></div><div class="val" style="left:235.5px">1.542</div></div><div class="row" style="top:1241.20px"><div class="strip"></div><div class="num">19</div><div class="nm">NEBRASKA</div><div class="bar" style="width:82.9px;background:#aa0952"></div><div class="val" style="left:234.4px">1.521</div></div><div class="row" style="top:1260.35px"><div class="strip"></div><div class="num">20</div><div class="nm">ARIZONA</div><div class="bar" style="width:80.4px;background:#e17a55"></div><div class="val" style="left:231.9px">1.476</div></div><div class="row" style="top:1279.50px"><div class="strip"></div><div class="num">21</div><div class="nm">HAWAII</div><div class="bar" style="width:76.0px;background:#aa0952"></div><div class="val" style="left:227.5px">1.395</div></div><div class="row" style="top:1298.65px"><div class="strip"></div><div class="num">22</div><div class="nm">PENNSYLVANIA</div><div class="bar" style="width:75.9px;background:#e17a55"></div><div class="val" style="left:227.4px">1.392</div></div><div class="row" style="top:1317.80px"><div class="strip"></div><div class="num">23</div><div class="nm">WISCONSIN</div><div class="bar" style="width:64.6px;background:#cd4562"></div><div class="val" style="left:216.1px">1.185</div></div><div class="row" style="top:1336.95px"><div class="strip"></div><div class="num">24</div><div class="nm">MISSOURI</div><div class="bar" style="width:61.7px;background:#cd4562"></div><div class="val" style="left:213.2px">1.132</div></div><div class="row" style="top:1356.10px"><div class="strip"></div><div class="num">25</div><div class="nm">MICHIGAN</div><div class="bar" style="width:59.8px;background:#e17a55"></div><div class="val" style="left:211.3px">1.097</div></div><div class="row" style="top:1375.25px"><div class="strip"></div><div class="num">26</div><div class="nm">SOUTH DAKOTA</div><div class="bar" style="width:59.0px;background:#aa0952"></div><div class="val" style="left:210.5px">1.083</div></div><div class="row" style="top:1394.40px"><div class="strip"></div><div class="num">27</div><div class="nm">RHODE ISLAND</div><div class="bar" style="width:50.0px;background:#aa0952"></div><div class="val" style="left:201.5px">0.917</div></div><div class="row" style="top:1413.55px"><div class="strip"></div><div class="num">28</div><div class="nm">VIRGINIA</div><div class="bar" style="width:43.8px;background:#cd4562"></div><div class="val" style="left:195.3px">0.804</div></div><div class="row" style="top:1432.70px"><div class="strip"></div><div class="num">29</div><div class="nm">MAINE</div><div class="bar" style="width:39.1px;background:#aa0952"></div><div class="val" style="left:190.6px">0.718</div></div><div class="row" style="top:1451.85px"><div class="strip"></div><div class="num">30</div><div class="nm">OREGON</div><div class="bar" style="width:38.7px;background:#aa0952"></div><div class="val" style="left:190.2px">0.710</div></div><div class="row" style="top:1471.00px"><div class="strip"></div><div class="num">31</div><div class="nm">MINNESOTA</div><div class="bar" style="width:38.1px;background:#cd4562"></div><div class="val" style="left:189.6px">0.699</div></div><div class="row" style="top:1490.15px"><div class="strip"></div><div class="num">32</div><div class="nm">MISSISSIPPI</div><div class="bar" style="width:37.2px;background:#aa0952"></div><div class="val" style="left:188.7px">0.682</div></div><div class="row" style="top:1509.30px"><div class="strip"></div><div class="num">33</div><div class="nm">KANSAS</div><div class="bar" style="width:37.1px;background:#aa0952"></div><div class="val" style="left:188.6px">0.681</div></div><div class="row" style="top:1528.45px"><div class="strip"></div><div class="num">34</div><div class="nm">OHIO</div><div class="bar" style="width:32.5px;background:#cd4562"></div><div class="val" style="left:184.0px">0.596</div></div><div class="row" style="top:1547.60px"><div class="strip"></div><div class="num">35</div><div class="nm">NORTH CAROLINA</div><div class="bar" style="width:30.2px;background:#cd4562"></div><div class="val" style="left:181.7px">0.554</div></div><div class="row" style="top:1566.75px"><div class="strip"></div><div class="num">36</div><div class="nm">NEW JERSEY</div><div class="bar" style="width:29.4px;background:#cd4562"></div><div class="val" style="left:180.9px">0.540</div></div><div class="row" style="top:1585.90px"><div class="strip"></div><div class="num">37</div><div class="nm">IDAHO</div><div class="bar" style="width:27.6px;background:#aa0952"></div><div class="val" style="left:179.1px">0.507</div></div><div class="row" style="top:1605.05px"><div class="strip"></div><div class="num">38</div><div class="nm">INDIANA</div><div class="bar" style="width:23.9px;background:#aa0952"></div><div class="val" style="left:175.4px">0.438</div></div><div class="row" style="top:1624.20px"><div class="strip"></div><div class="num">39</div><div class="nm">IOWA</div><div class="bar" style="width:17.0px;background:#aa0952"></div><div class="val" style="left:168.5px">0.312</div></div><div class="row" style="top:1643.35px"><div class="strip"></div><div class="num">40</div><div class="nm">KENTUCKY</div><div class="bar" style="width:12.0px;background:#aa0952"></div><div class="val" style="left:163.5px">0.221</div></div><div class="row" style="top:1662.50px"><div class="strip"></div><div class="num">41</div><div class="nm">LOUISIANA</div><div class="bar" style="width:12.0px;background:#aa0952"></div><div class="val" style="left:163.5px">0.220</div></div><div class="row" style="top:1681.65px"><div class="strip"></div><div class="num">42</div><div class="nm">SOUTH CAROLINA</div><div class="bar" style="width:10.1px;background:#aa0952"></div><div class="val" style="left:161.6px">0.186</div></div><div class="foot" style="top:1726.5px">Note:</div><div class="foot" style="top:1738.0px">Data accurate as of March 2023</div><div class="foot" style="top:1762.0px">Sources:</div><div class="foot" style="top:1773.0px">www.worldpopulationreview.com/state-rankings/most-billionaires-by-state</div><div class="foot" style="top:1784.5px">www.en.wikipedia.org/wiki/List_of_U.S._states_by_the_number_of_billionaires</div><div class="panel"></div><svg width="220" height="110" viewBox="500 1707 220 110" style="position:absolute;left:500px;top:1707px">
<g fill="none" stroke="#5bbccd" stroke-width="1.5"><circle cx="612.3" cy="1737.5" r="8.8"/><circle cx="622.3" cy="1737.5" r="8.8"/><circle cx="617.3" cy="1746" r="8.8"/><circle cx="617.3" cy="1734" r="8.8"/><circle cx="617.3" cy="1740" r="4.6" stroke="#3c6f86" stroke-width="1.2"/><circle cx="617.3" cy="1740" r="14.4" stroke="#8fd3de" stroke-width="1"/></g>
<g font-family="'Liberation Sans',sans-serif" fill="#1e1c1d" stroke="#1e1c1d" stroke-width="0.45"><text x="559.5" y="1778.3" font-size="26" textLength="114" lengthAdjust="spacingAndGlyphs">MADISON</text><text x="565" y="1798.6" font-size="13.6" textLength="100" lengthAdjust="spacingAndGlyphs">TRUST COMPANY</text></g>
<rect x="555" y="1782.3" width="123" height="1.6" fill="#63bfd0"/></svg></body></html>
